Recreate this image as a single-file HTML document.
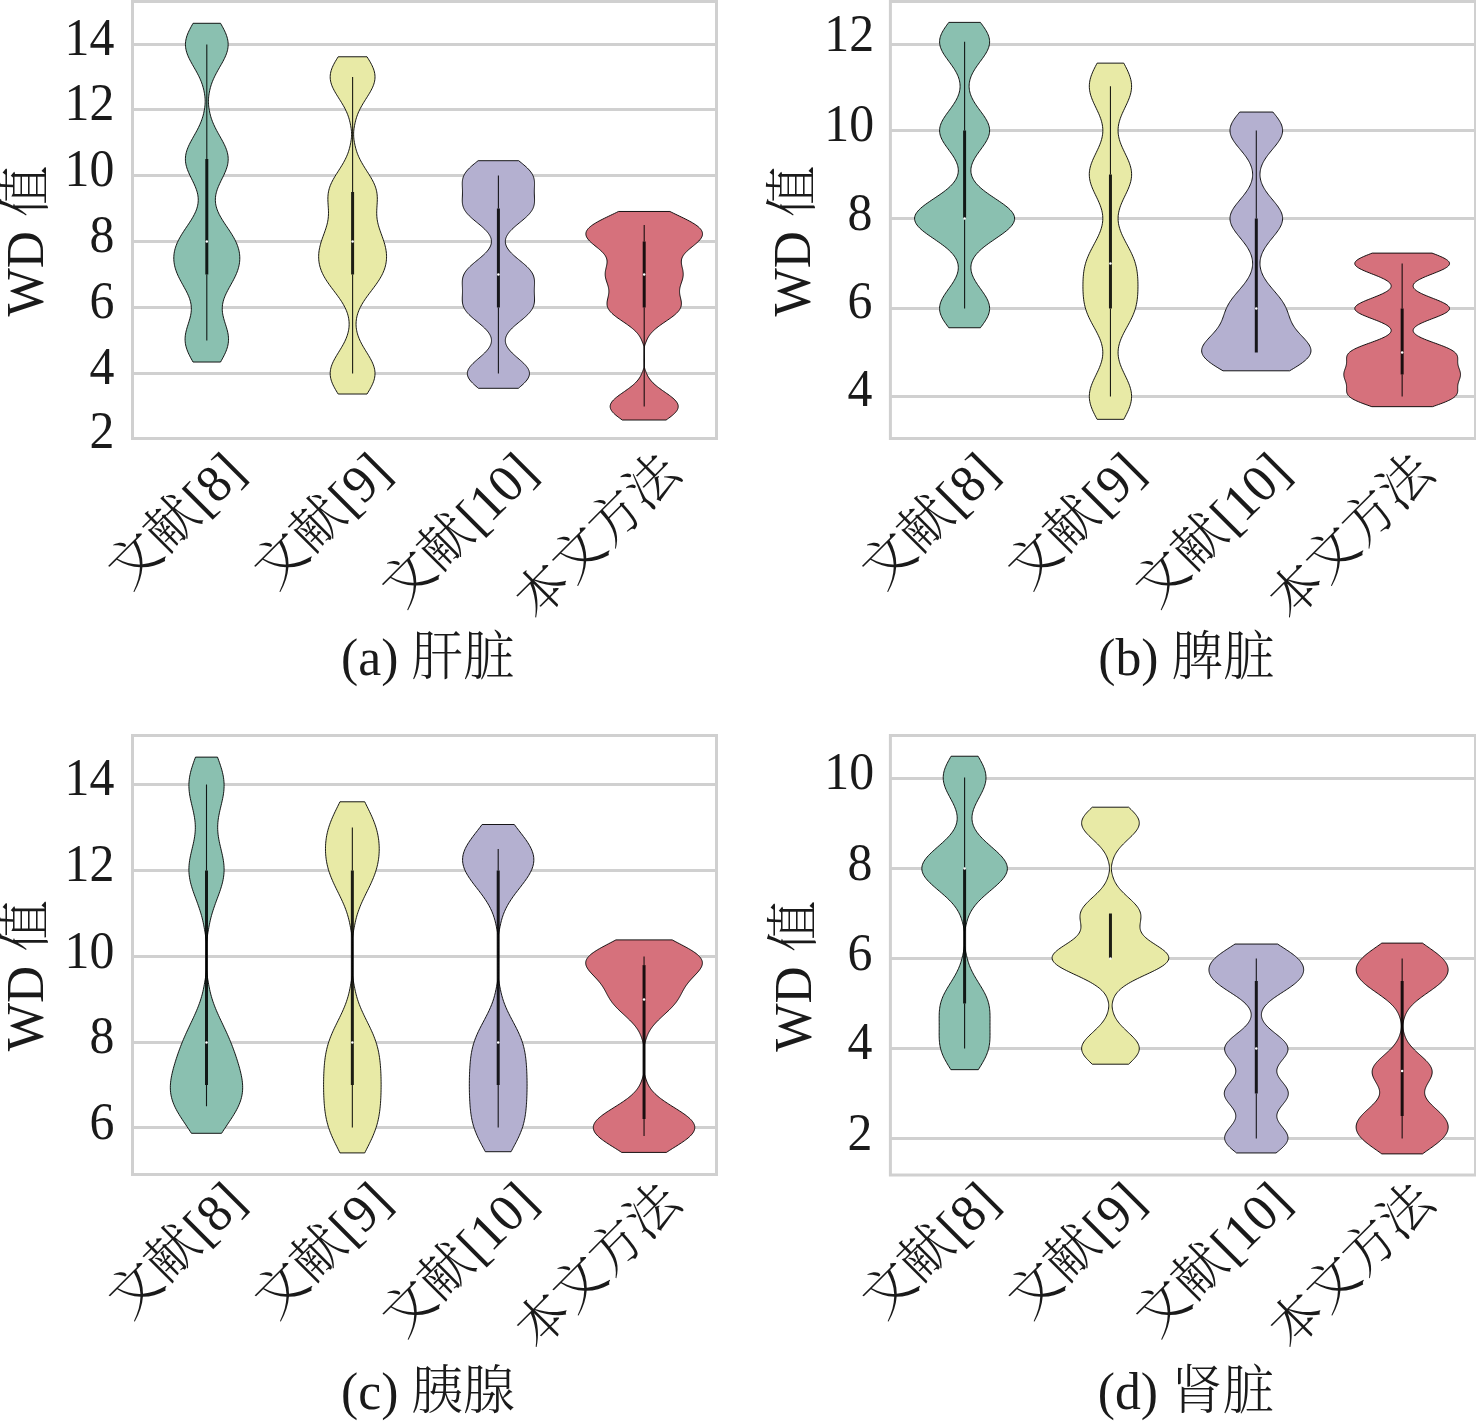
<!DOCTYPE html>
<html lang="zh-CN">
<head>
<meta charset="utf-8">
<title>WD 值 violin plots</title>
<style>
html,body{margin:0;padding:0;background:#fff;}
body{width:1476px;height:1424px;overflow:hidden;}
svg text{font-family:"Liberation Serif", "Noto Serif CJK SC", serif;fill:#1a1a1a;font-weight:300;}
</style>
</head>
<body>
<svg role="img" aria-label="WD 值 小提琴图" width="1476" height="1424" viewBox="0 0 1476 1424" style="display:block">
<rect width="1476" height="1424" fill="#fff"/>
<g id="panel-a">
<line x1="132.5" x2="716.5" y1="44.5" y2="44.5" stroke="#d0d0d0" stroke-width="3.0"/>
<line x1="132.5" x2="716.5" y1="109.5" y2="109.5" stroke="#d0d0d0" stroke-width="3.0"/>
<line x1="132.5" x2="716.5" y1="175.5" y2="175.5" stroke="#d0d0d0" stroke-width="3.0"/>
<line x1="132.5" x2="716.5" y1="241.5" y2="241.5" stroke="#d0d0d0" stroke-width="3.0"/>
<line x1="132.5" x2="716.5" y1="307.5" y2="307.5" stroke="#d0d0d0" stroke-width="3.0"/>
<line x1="132.5" x2="716.5" y1="373.5" y2="373.5" stroke="#d0d0d0" stroke-width="3.0"/>
<path d="M193.05,362.04 L192.18,360.48 L191.32,358.93 L190.48,357.38 L189.68,355.82 L188.92,354.27 L188.2,352.72 L187.55,351.17 L186.96,349.61 L186.44,348.06 L186,346.51 L185.64,344.95 L185.37,343.4 L185.19,341.85 L185.09,340.3 L185.07,338.74 L185.15,337.19 L185.3,335.64 L185.52,334.08 L185.82,332.53 L186.17,330.98 L186.57,329.43 L187.01,327.87 L187.48,326.32 L187.97,324.77 L188.46,323.22 L188.95,321.66 L189.42,320.11 L189.86,318.56 L190.26,317 L190.61,315.45 L190.9,313.9 L191.12,312.35 L191.27,310.79 L191.34,309.24 L191.33,307.69 L191.23,306.13 L191.04,304.58 L190.77,303.03 L190.41,301.48 L189.98,299.92 L189.46,298.37 L188.88,296.82 L188.23,295.26 L187.52,293.71 L186.76,292.16 L185.97,290.61 L185.14,289.05 L184.29,287.5 L183.43,285.95 L182.57,284.39 L181.71,282.84 L180.86,281.29 L180.04,279.74 L179.25,278.18 L178.49,276.63 L177.78,275.08 L177.11,273.52 L176.5,271.97 L175.94,270.42 L175.44,268.87 L175,267.31 L174.63,265.76 L174.33,264.21 L174.09,262.65 L173.92,261.1 L173.82,259.55 L173.79,258 L173.84,256.44 L173.95,254.89 L174.14,253.34 L174.39,251.78 L174.72,250.23 L175.12,248.68 L175.59,247.13 L176.12,245.57 L176.72,244.02 L177.38,242.47 L178.11,240.91 L178.89,239.36 L179.72,237.81 L180.61,236.26 L181.54,234.7 L182.5,233.15 L183.5,231.6 L184.52,230.04 L185.55,228.49 L186.6,226.94 L187.65,225.39 L188.69,223.83 L189.71,222.28 L190.71,220.73 L191.67,219.17 L192.6,217.62 L193.47,216.07 L194.29,214.52 L195.05,212.96 L195.74,211.41 L196.35,209.86 L196.88,208.3 L197.33,206.75 L197.69,205.2 L197.96,203.65 L198.14,202.09 L198.23,200.54 L198.23,198.99 L198.13,197.43 L197.95,195.88 L197.68,194.33 L197.33,192.78 L196.9,191.22 L196.4,189.67 L195.84,188.12 L195.22,186.57 L194.55,185.01 L193.84,183.46 L193.11,181.91 L192.35,180.35 L191.58,178.8 L190.82,177.25 L190.07,175.7 L189.34,174.14 L188.65,172.59 L188,171.04 L187.4,169.48 L186.87,167.93 L186.41,166.38 L186.03,164.83 L185.74,163.27 L185.53,161.72 L185.42,160.17 L185.41,158.61 L185.49,157.06 L185.66,155.51 L185.93,153.96 L186.29,152.4 L186.73,150.85 L187.26,149.3 L187.86,147.74 L188.52,146.19 L189.24,144.64 L190.01,143.09 L190.82,141.53 L191.66,139.98 L192.52,138.43 L193.39,136.87 L194.27,135.32 L195.14,133.77 L196,132.22 L196.84,130.66 L197.66,129.11 L198.44,127.56 L199.19,126 L199.9,124.45 L200.57,122.9 L201.2,121.35 L201.78,119.79 L202.31,118.24 L202.79,116.69 L203.22,115.13 L203.61,113.58 L203.95,112.03 L204.25,110.48 L204.52,108.93 L204.74,107.4 L204.93,105.87 L205.06,104.34 L205.14,102.81 L205.17,101.29 L205.14,99.76 L205.05,98.23 L204.91,96.7 L204.72,95.17 L204.49,93.64 L204.22,92.11 L203.91,90.58 L203.57,89.05 L203.17,87.52 L202.73,85.99 L202.25,84.46 L201.71,82.93 L201.13,81.4 L200.5,79.87 L199.82,78.35 L199.11,76.82 L198.35,75.29 L197.56,73.76 L196.74,72.23 L195.9,70.7 L195.04,69.17 L194.17,67.64 L193.29,66.11 L192.42,64.58 L191.56,63.05 L190.72,61.52 L189.92,59.99 L189.16,58.46 L188.44,56.94 L187.79,55.41 L187.2,53.88 L186.69,52.35 L186.25,50.82 L185.91,49.29 L185.66,47.76 L185.5,46.23 L185.43,44.7 L185.47,43.17 L185.6,41.64 L185.83,40.11 L186.16,38.58 L186.57,37.05 L187.06,35.52 L187.63,34 L188.27,32.47 L188.97,30.94 L189.72,29.41 L190.51,27.88 L191.34,26.35 L192.19,24.82 L193.06,23.29 L220.54,23.29 L221.41,24.82 L222.26,26.35 L223.09,27.88 L223.88,29.41 L224.63,30.94 L225.33,32.47 L225.97,34 L226.54,35.52 L227.03,37.05 L227.44,38.58 L227.77,40.11 L228,41.64 L228.13,43.17 L228.17,44.7 L228.1,46.23 L227.94,47.76 L227.69,49.29 L227.35,50.82 L226.91,52.35 L226.4,53.88 L225.81,55.41 L225.16,56.94 L224.44,58.46 L223.68,59.99 L222.88,61.52 L222.04,63.05 L221.18,64.58 L220.31,66.11 L219.43,67.64 L218.56,69.17 L217.7,70.7 L216.86,72.23 L216.04,73.76 L215.25,75.29 L214.49,76.82 L213.78,78.35 L213.1,79.87 L212.47,81.4 L211.89,82.93 L211.35,84.46 L210.87,85.99 L210.43,87.52 L210.03,89.05 L209.69,90.58 L209.38,92.11 L209.11,93.64 L208.88,95.17 L208.69,96.7 L208.55,98.23 L208.46,99.76 L208.43,101.29 L208.46,102.81 L208.54,104.34 L208.67,105.87 L208.86,107.4 L209.08,108.93 L209.35,110.48 L209.65,112.03 L209.99,113.58 L210.38,115.13 L210.81,116.69 L211.29,118.24 L211.82,119.79 L212.4,121.35 L213.03,122.9 L213.7,124.45 L214.41,126 L215.16,127.56 L215.94,129.11 L216.76,130.66 L217.6,132.22 L218.46,133.77 L219.33,135.32 L220.21,136.87 L221.08,138.43 L221.94,139.98 L222.78,141.53 L223.59,143.09 L224.36,144.64 L225.08,146.19 L225.74,147.74 L226.34,149.3 L226.87,150.85 L227.31,152.4 L227.67,153.96 L227.94,155.51 L228.11,157.06 L228.19,158.61 L228.18,160.17 L228.07,161.72 L227.86,163.27 L227.57,164.83 L227.19,166.38 L226.73,167.93 L226.2,169.48 L225.6,171.04 L224.95,172.59 L224.26,174.14 L223.53,175.7 L222.78,177.25 L222.02,178.8 L221.25,180.35 L220.49,181.91 L219.76,183.46 L219.05,185.01 L218.38,186.57 L217.76,188.12 L217.2,189.67 L216.7,191.22 L216.27,192.78 L215.92,194.33 L215.65,195.88 L215.47,197.43 L215.37,198.99 L215.37,200.54 L215.46,202.09 L215.64,203.65 L215.91,205.2 L216.27,206.75 L216.72,208.3 L217.25,209.86 L217.86,211.41 L218.55,212.96 L219.31,214.52 L220.13,216.07 L221,217.62 L221.93,219.17 L222.89,220.73 L223.89,222.28 L224.91,223.83 L225.95,225.39 L227,226.94 L228.05,228.49 L229.08,230.04 L230.1,231.6 L231.1,233.15 L232.06,234.7 L232.99,236.26 L233.88,237.81 L234.71,239.36 L235.49,240.91 L236.22,242.47 L236.88,244.02 L237.48,245.57 L238.01,247.13 L238.48,248.68 L238.88,250.23 L239.21,251.78 L239.46,253.34 L239.65,254.89 L239.76,256.44 L239.81,258 L239.78,259.55 L239.68,261.1 L239.51,262.65 L239.27,264.21 L238.97,265.76 L238.6,267.31 L238.16,268.87 L237.66,270.42 L237.1,271.97 L236.49,273.52 L235.82,275.08 L235.11,276.63 L234.35,278.18 L233.56,279.74 L232.74,281.29 L231.89,282.84 L231.03,284.39 L230.17,285.95 L229.31,287.5 L228.46,289.05 L227.63,290.61 L226.84,292.16 L226.08,293.71 L225.37,295.26 L224.72,296.82 L224.14,298.37 L223.62,299.92 L223.19,301.48 L222.83,303.03 L222.56,304.58 L222.37,306.13 L222.27,307.69 L222.26,309.24 L222.33,310.79 L222.48,312.35 L222.7,313.9 L222.99,315.45 L223.34,317 L223.74,318.56 L224.18,320.11 L224.65,321.66 L225.14,323.22 L225.63,324.77 L226.12,326.32 L226.59,327.87 L227.03,329.43 L227.43,330.98 L227.78,332.53 L228.08,334.08 L228.3,335.64 L228.45,337.19 L228.53,338.74 L228.51,340.3 L228.41,341.85 L228.23,343.4 L227.96,344.95 L227.6,346.51 L227.16,348.06 L226.64,349.61 L226.05,351.17 L225.4,352.72 L224.68,354.27 L223.92,355.82 L223.12,357.38 L222.28,358.93 L221.42,360.48 L220.55,362.04Z" fill="#8ac0b0" stroke="#000" stroke-opacity="0.9" stroke-width="1" stroke-linejoin="round"/>
<line x1="206.8" x2="206.8" y1="44.5" y2="159" stroke="#000" stroke-opacity="0.88" stroke-width="1.1"/>
<line x1="206.8" x2="206.8" y1="274.5" y2="340.5" stroke="#000" stroke-opacity="0.88" stroke-width="1.1"/>
<line x1="206.8" x2="206.8" y1="159" y2="274.5" stroke="#000" stroke-opacity="0.88" stroke-width="3"/>
<circle cx="206.8" cy="241.5" r="1.25" fill="#fff"/>
<path d="M338.19,394.03 L337.24,392.49 L336.31,390.94 L335.4,389.4 L334.54,387.85 L333.73,386.31 L332.98,384.77 L332.3,383.22 L331.7,381.68 L331.2,380.14 L330.79,378.59 L330.48,377.05 L330.28,375.51 L330.19,373.96 L330.21,372.42 L330.35,370.87 L330.59,369.33 L330.94,367.79 L331.39,366.24 L331.93,364.7 L332.56,363.16 L333.26,361.61 L334.04,360.07 L334.87,358.53 L335.74,356.98 L336.65,355.44 L337.59,353.89 L338.54,352.35 L339.49,350.81 L340.43,349.26 L341.35,347.72 L342.25,346.18 L343.11,344.63 L343.94,343.09 L344.71,341.55 L345.44,340 L346.1,338.46 L346.71,336.91 L347.25,335.37 L347.73,333.83 L348.14,332.28 L348.48,330.74 L348.76,329.2 L348.96,327.65 L349.09,326.11 L349.14,324.57 L349.13,323.02 L349.04,321.48 L348.88,319.93 L348.65,318.39 L348.35,316.85 L347.97,315.3 L347.52,313.76 L347,312.22 L346.41,310.67 L345.75,309.13 L345.02,307.59 L344.23,306.04 L343.37,304.5 L342.46,302.95 L341.49,301.41 L340.48,299.87 L339.42,298.32 L338.32,296.78 L337.2,295.24 L336.05,293.69 L334.88,292.15 L333.71,290.61 L332.55,289.06 L331.39,287.52 L330.25,285.97 L329.13,284.43 L328.05,282.89 L327.01,281.34 L326.01,279.8 L325.07,278.26 L324.18,276.71 L323.35,275.17 L322.58,273.62 L321.89,272.08 L321.26,270.54 L320.69,268.99 L320.2,267.45 L319.78,265.91 L319.42,264.36 L319.14,262.82 L318.92,261.28 L318.76,259.73 L318.68,258.19 L318.65,256.64 L318.68,255.1 L318.78,253.56 L318.93,252.01 L319.14,250.47 L319.4,248.93 L319.72,247.38 L320.08,245.84 L320.48,244.3 L320.92,242.75 L321.4,241.21 L321.91,239.66 L322.44,238.12 L322.99,236.58 L323.55,235.03 L324.11,233.49 L324.66,231.95 L325.2,230.4 L325.72,228.86 L326.21,227.32 L326.66,225.77 L327.08,224.23 L327.44,222.68 L327.75,221.14 L328.01,219.6 L328.21,218.05 L328.35,216.51 L328.44,214.97 L328.49,213.42 L328.49,211.88 L328.45,210.34 L328.38,208.79 L328.29,207.25 L328.18,205.7 L328.08,204.16 L327.99,202.62 L327.92,201.07 L327.88,199.53 L327.88,197.99 L327.94,196.44 L328.05,194.9 L328.23,193.36 L328.48,191.81 L328.81,190.27 L329.22,188.72 L329.7,187.18 L330.26,185.64 L330.9,184.09 L331.6,182.55 L332.37,181.01 L333.19,179.46 L334.07,177.92 L334.98,176.38 L335.93,174.83 L336.9,173.29 L337.88,171.74 L338.87,170.2 L339.85,168.66 L340.82,167.11 L341.76,165.57 L342.68,164.03 L343.57,162.48 L344.41,160.94 L345.21,159.39 L345.96,157.85 L346.66,156.31 L347.32,154.76 L347.91,153.22 L348.46,151.68 L348.95,150.13 L349.39,148.59 L349.79,147.05 L350.15,145.5 L350.47,143.96 L350.77,142.41 L351.03,140.87 L351.25,139.33 L351.41,137.78 L351.52,136.24 L351.57,134.7 L351.56,133.15 L351.49,131.61 L351.35,130.07 L351.16,128.52 L350.92,126.98 L350.65,125.43 L350.34,123.89 L350,122.35 L349.63,120.8 L349.22,119.26 L348.75,117.72 L348.24,116.17 L347.68,114.63 L347.06,113.09 L346.39,111.54 L345.67,110 L344.9,108.47 L344.09,106.95 L343.23,105.43 L342.35,103.91 L341.43,102.39 L340.49,100.87 L339.53,99.35 L338.57,97.83 L337.62,96.31 L336.68,94.79 L335.76,93.27 L334.88,91.75 L334.05,90.23 L333.27,88.71 L332.56,87.19 L331.93,85.67 L331.39,84.15 L330.94,82.63 L330.59,81.11 L330.35,79.59 L330.21,78.07 L330.19,76.54 L330.28,75.02 L330.48,73.5 L330.79,71.98 L331.2,70.46 L331.7,68.94 L332.3,67.42 L332.98,65.9 L333.73,64.38 L334.54,62.86 L335.4,61.34 L336.31,59.82 L337.24,58.3 L338.19,56.78 L367.01,56.78 L367.96,58.3 L368.89,59.82 L369.8,61.34 L370.66,62.86 L371.47,64.38 L372.22,65.9 L372.9,67.42 L373.5,68.94 L374,70.46 L374.41,71.98 L374.72,73.5 L374.92,75.02 L375.01,76.54 L374.99,78.07 L374.85,79.59 L374.61,81.11 L374.26,82.63 L373.81,84.15 L373.27,85.67 L372.64,87.19 L371.93,88.71 L371.15,90.23 L370.32,91.75 L369.44,93.27 L368.52,94.79 L367.58,96.31 L366.63,97.83 L365.67,99.35 L364.71,100.87 L363.77,102.39 L362.85,103.91 L361.97,105.43 L361.11,106.95 L360.3,108.47 L359.53,110 L358.81,111.54 L358.14,113.09 L357.52,114.63 L356.96,116.17 L356.45,117.72 L355.98,119.26 L355.57,120.8 L355.2,122.35 L354.86,123.89 L354.55,125.43 L354.28,126.98 L354.04,128.52 L353.85,130.07 L353.71,131.61 L353.64,133.15 L353.63,134.7 L353.68,136.24 L353.79,137.78 L353.95,139.33 L354.17,140.87 L354.43,142.41 L354.73,143.96 L355.05,145.5 L355.41,147.05 L355.81,148.59 L356.25,150.13 L356.74,151.68 L357.29,153.22 L357.88,154.76 L358.54,156.31 L359.24,157.85 L359.99,159.39 L360.79,160.94 L361.63,162.48 L362.52,164.03 L363.44,165.57 L364.38,167.11 L365.35,168.66 L366.33,170.2 L367.32,171.74 L368.3,173.29 L369.27,174.83 L370.22,176.38 L371.13,177.92 L372.01,179.46 L372.83,181.01 L373.6,182.55 L374.3,184.09 L374.94,185.64 L375.5,187.18 L375.98,188.72 L376.39,190.27 L376.72,191.81 L376.97,193.36 L377.15,194.9 L377.26,196.44 L377.32,197.99 L377.32,199.53 L377.28,201.07 L377.21,202.62 L377.12,204.16 L377.02,205.7 L376.91,207.25 L376.82,208.79 L376.75,210.34 L376.71,211.88 L376.71,213.42 L376.76,214.97 L376.85,216.51 L376.99,218.05 L377.19,219.6 L377.45,221.14 L377.76,222.68 L378.12,224.23 L378.54,225.77 L378.99,227.32 L379.48,228.86 L380,230.4 L380.54,231.95 L381.09,233.49 L381.65,235.03 L382.21,236.58 L382.76,238.12 L383.29,239.66 L383.8,241.21 L384.28,242.75 L384.72,244.3 L385.12,245.84 L385.48,247.38 L385.8,248.93 L386.06,250.47 L386.27,252.01 L386.42,253.56 L386.52,255.1 L386.55,256.64 L386.52,258.19 L386.44,259.73 L386.28,261.28 L386.06,262.82 L385.78,264.36 L385.42,265.91 L385,267.45 L384.51,268.99 L383.94,270.54 L383.31,272.08 L382.62,273.62 L381.85,275.17 L381.02,276.71 L380.13,278.26 L379.19,279.8 L378.19,281.34 L377.15,282.89 L376.07,284.43 L374.95,285.97 L373.81,287.52 L372.65,289.06 L371.49,290.61 L370.32,292.15 L369.15,293.69 L368,295.24 L366.88,296.78 L365.78,298.32 L364.72,299.87 L363.71,301.41 L362.74,302.95 L361.83,304.5 L360.97,306.04 L360.18,307.59 L359.45,309.13 L358.79,310.67 L358.2,312.22 L357.68,313.76 L357.23,315.3 L356.85,316.85 L356.55,318.39 L356.32,319.93 L356.16,321.48 L356.07,323.02 L356.06,324.57 L356.11,326.11 L356.24,327.65 L356.44,329.2 L356.72,330.74 L357.06,332.28 L357.47,333.83 L357.95,335.37 L358.49,336.91 L359.1,338.46 L359.76,340 L360.49,341.55 L361.26,343.09 L362.09,344.63 L362.95,346.18 L363.85,347.72 L364.77,349.26 L365.71,350.81 L366.66,352.35 L367.61,353.89 L368.55,355.44 L369.46,356.98 L370.33,358.53 L371.16,360.07 L371.94,361.61 L372.64,363.16 L373.27,364.7 L373.81,366.24 L374.26,367.79 L374.61,369.33 L374.85,370.87 L374.99,372.42 L375.01,373.96 L374.92,375.51 L374.72,377.05 L374.41,378.59 L374,380.14 L373.5,381.68 L372.9,383.22 L372.22,384.77 L371.47,386.31 L370.66,387.85 L369.8,389.4 L368.89,390.94 L367.96,392.49 L367.01,394.03Z" fill="#e8eaa6" stroke="#000" stroke-opacity="0.9" stroke-width="1" stroke-linejoin="round"/>
<line x1="352.6" x2="352.6" y1="77" y2="192" stroke="#000" stroke-opacity="0.88" stroke-width="1.1"/>
<line x1="352.6" x2="352.6" y1="274.5" y2="373.5" stroke="#000" stroke-opacity="0.88" stroke-width="1.1"/>
<line x1="352.6" x2="352.6" y1="192" y2="274.5" stroke="#000" stroke-opacity="0.88" stroke-width="3"/>
<circle cx="352.6" cy="241.5" r="1.25" fill="#fff"/>
<path d="M478.43,388.31 L477.2,387.27 L475.99,386.23 L474.81,385.19 L473.68,384.15 L472.61,383.11 L471.61,382.08 L470.69,381.04 L469.86,380 L469.14,378.96 L468.53,377.92 L468.04,376.88 L467.67,375.84 L467.44,374.8 L467.33,373.76 L467.37,372.72 L467.53,371.68 L467.83,370.64 L468.26,369.6 L468.8,368.56 L469.47,367.52 L470.24,366.48 L471.1,365.45 L472.05,364.41 L473.08,363.37 L474.17,362.33 L475.3,361.29 L476.47,360.25 L477.67,359.21 L478.87,358.17 L480.07,357.13 L481.26,356.09 L482.42,355.05 L483.54,354.01 L484.62,352.97 L485.64,351.93 L486.6,350.89 L487.48,349.85 L488.29,348.82 L489.02,347.78 L489.66,346.74 L490.2,345.7 L490.65,344.66 L491.01,343.62 L491.26,342.58 L491.41,341.54 L491.46,340.5 L491.41,339.46 L491.25,338.42 L491,337.38 L490.64,336.34 L490.19,335.3 L489.64,334.26 L488.99,333.22 L488.26,332.19 L487.44,331.15 L486.54,330.11 L485.56,329.07 L484.52,328.03 L483.42,326.99 L482.27,325.95 L481.07,324.91 L479.84,323.87 L478.59,322.83 L477.32,321.79 L476.06,320.75 L474.8,319.71 L473.56,318.67 L472.35,317.63 L471.18,316.59 L470.06,315.56 L469,314.52 L468.01,313.48 L467.09,312.44 L466.25,311.4 L465.5,310.36 L464.83,309.32 L464.24,308.28 L463.75,307.24 L463.33,306.2 L462.99,305.16 L462.73,304.12 L462.53,303.08 L462.4,302.04 L462.31,301 L462.27,299.96 L462.27,298.93 L462.28,297.89 L462.32,296.85 L462.36,295.81 L462.4,294.77 L462.44,293.73 L462.47,292.69 L462.49,291.65 L462.49,290.61 L462.48,289.57 L462.45,288.53 L462.41,287.49 L462.37,286.45 L462.33,285.41 L462.29,284.37 L462.27,283.33 L462.27,282.3 L462.3,281.26 L462.37,280.22 L462.5,279.18 L462.68,278.14 L462.92,277.1 L463.24,276.06 L463.63,275.02 L464.11,273.98 L464.67,272.94 L465.32,271.9 L466.06,270.86 L466.88,269.82 L467.77,268.78 L468.75,267.74 L469.79,266.7 L470.89,265.67 L472.05,264.63 L473.25,263.59 L474.48,262.55 L475.74,261.51 L477.01,260.47 L478.27,259.43 L479.53,258.39 L480.77,257.35 L481.97,256.31 L483.14,255.27 L484.25,254.23 L485.31,253.19 L486.3,252.15 L487.22,251.11 L488.06,250.07 L488.81,249.04 L489.48,248 L490.06,246.96 L490.54,245.92 L490.92,244.88 L491.2,243.84 L491.38,242.8 L491.45,241.76 L491.43,240.72 L491.3,239.68 L491.07,238.64 L490.74,237.6 L490.31,236.56 L489.78,235.52 L489.16,234.48 L488.45,233.44 L487.65,232.41 L486.77,231.37 L485.81,230.33 L484.79,229.29 L483.7,228.25 L482.56,227.21 L481.37,226.17 L480.15,225.13 L478.9,224.09 L477.64,223.05 L476.37,222.01 L475.11,220.97 L473.86,219.93 L472.65,218.89 L471.47,217.85 L470.33,216.81 L469.26,215.78 L468.25,214.74 L467.31,213.7 L466.46,212.66 L465.68,211.62 L464.99,210.58 L464.38,209.54 L463.86,208.5 L463.43,207.46 L463.07,206.42 L462.79,205.38 L462.58,204.34 L462.43,203.3 L462.33,202.26 L462.28,201.22 L462.26,200.18 L462.28,199.15 L462.31,198.11 L462.35,197.07 L462.39,196.03 L462.43,194.99 L462.46,193.95 L462.48,192.91 L462.49,191.87 L462.48,190.83 L462.46,189.79 L462.42,188.75 L462.38,187.71 L462.34,186.67 L462.3,185.63 L462.27,184.59 L462.27,183.55 L462.29,182.52 L462.35,181.48 L462.46,180.44 L462.63,179.4 L462.86,178.36 L463.16,177.32 L463.53,176.28 L463.99,175.24 L464.53,174.2 L465.16,173.16 L465.88,172.12 L466.68,171.08 L467.56,170.04 L468.52,169 L469.56,167.96 L470.65,166.92 L471.81,165.89 L473.01,164.85 L474.26,163.81 L475.53,162.77 L476.82,161.73 L478.12,160.69 L518.68,160.69 L519.98,161.73 L521.27,162.77 L522.54,163.81 L523.79,164.85 L524.99,165.89 L526.15,166.92 L527.24,167.96 L528.28,169 L529.24,170.04 L530.12,171.08 L530.92,172.12 L531.64,173.16 L532.27,174.2 L532.81,175.24 L533.27,176.28 L533.64,177.32 L533.94,178.36 L534.17,179.4 L534.34,180.44 L534.45,181.48 L534.51,182.52 L534.53,183.55 L534.53,184.59 L534.5,185.63 L534.46,186.67 L534.42,187.71 L534.38,188.75 L534.34,189.79 L534.32,190.83 L534.31,191.87 L534.32,192.91 L534.34,193.95 L534.37,194.99 L534.41,196.03 L534.45,197.07 L534.49,198.11 L534.52,199.15 L534.54,200.18 L534.52,201.22 L534.47,202.26 L534.37,203.3 L534.22,204.34 L534.01,205.38 L533.73,206.42 L533.37,207.46 L532.94,208.5 L532.42,209.54 L531.81,210.58 L531.12,211.62 L530.34,212.66 L529.49,213.7 L528.55,214.74 L527.54,215.78 L526.47,216.81 L525.33,217.85 L524.15,218.89 L522.94,219.93 L521.69,220.97 L520.43,222.01 L519.16,223.05 L517.9,224.09 L516.65,225.13 L515.43,226.17 L514.24,227.21 L513.1,228.25 L512.01,229.29 L510.99,230.33 L510.03,231.37 L509.15,232.41 L508.35,233.44 L507.64,234.48 L507.02,235.52 L506.49,236.56 L506.06,237.6 L505.73,238.64 L505.5,239.68 L505.37,240.72 L505.35,241.76 L505.42,242.8 L505.6,243.84 L505.88,244.88 L506.26,245.92 L506.74,246.96 L507.32,248 L507.99,249.04 L508.74,250.07 L509.58,251.11 L510.5,252.15 L511.49,253.19 L512.55,254.23 L513.66,255.27 L514.83,256.31 L516.03,257.35 L517.27,258.39 L518.53,259.43 L519.79,260.47 L521.06,261.51 L522.32,262.55 L523.55,263.59 L524.75,264.63 L525.91,265.67 L527.01,266.7 L528.05,267.74 L529.03,268.78 L529.92,269.82 L530.74,270.86 L531.48,271.9 L532.13,272.94 L532.69,273.98 L533.17,275.02 L533.56,276.06 L533.88,277.1 L534.12,278.14 L534.3,279.18 L534.43,280.22 L534.5,281.26 L534.53,282.3 L534.53,283.33 L534.51,284.37 L534.47,285.41 L534.43,286.45 L534.39,287.49 L534.35,288.53 L534.32,289.57 L534.31,290.61 L534.31,291.65 L534.33,292.69 L534.36,293.73 L534.4,294.77 L534.44,295.81 L534.48,296.85 L534.52,297.89 L534.53,298.93 L534.53,299.96 L534.49,301 L534.4,302.04 L534.27,303.08 L534.07,304.12 L533.81,305.16 L533.47,306.2 L533.05,307.24 L532.56,308.28 L531.97,309.32 L531.3,310.36 L530.55,311.4 L529.71,312.44 L528.79,313.48 L527.8,314.52 L526.74,315.56 L525.62,316.59 L524.45,317.63 L523.24,318.67 L522,319.71 L520.74,320.75 L519.48,321.79 L518.21,322.83 L516.96,323.87 L515.73,324.91 L514.53,325.95 L513.38,326.99 L512.28,328.03 L511.24,329.07 L510.26,330.11 L509.36,331.15 L508.54,332.19 L507.81,333.22 L507.16,334.26 L506.61,335.3 L506.16,336.34 L505.8,337.38 L505.55,338.42 L505.39,339.46 L505.34,340.5 L505.39,341.54 L505.54,342.58 L505.79,343.62 L506.15,344.66 L506.6,345.7 L507.14,346.74 L507.78,347.78 L508.51,348.82 L509.32,349.85 L510.2,350.89 L511.16,351.93 L512.18,352.97 L513.26,354.01 L514.38,355.05 L515.54,356.09 L516.73,357.13 L517.93,358.17 L519.13,359.21 L520.33,360.25 L521.5,361.29 L522.63,362.33 L523.72,363.37 L524.75,364.41 L525.7,365.45 L526.56,366.48 L527.33,367.52 L528,368.56 L528.54,369.6 L528.97,370.64 L529.27,371.68 L529.43,372.72 L529.47,373.76 L529.36,374.8 L529.13,375.84 L528.76,376.88 L528.27,377.92 L527.66,378.96 L526.94,380 L526.11,381.04 L525.19,382.08 L524.19,383.11 L523.12,384.15 L521.99,385.19 L520.81,386.23 L519.6,387.27 L518.37,388.31Z" fill="#b4b0d0" stroke="#000" stroke-opacity="0.9" stroke-width="1" stroke-linejoin="round"/>
<line x1="498.4" x2="498.4" y1="175.5" y2="208.5" stroke="#000" stroke-opacity="0.88" stroke-width="1.1"/>
<line x1="498.4" x2="498.4" y1="307.5" y2="373.5" stroke="#000" stroke-opacity="0.88" stroke-width="1.1"/>
<line x1="498.4" x2="498.4" y1="208.5" y2="307.5" stroke="#000" stroke-opacity="0.88" stroke-width="3"/>
<circle cx="498.4" cy="274.5" r="1.25" fill="#fff"/>
<path d="M622.32,420.02 L620.97,419.07 L619.64,418.12 L618.35,417.16 L617.11,416.21 L615.93,415.26 L614.83,414.31 L613.82,413.36 L612.92,412.4 L612.13,411.45 L611.46,410.5 L610.92,409.55 L610.53,408.59 L610.28,407.64 L610.17,406.69 L610.22,405.74 L610.41,404.79 L610.75,403.83 L611.23,402.88 L611.84,401.93 L612.59,400.98 L613.45,400.02 L614.42,399.07 L615.48,398.12 L616.63,397.17 L617.85,396.22 L619.12,395.26 L620.43,394.31 L621.78,393.36 L623.14,392.41 L624.51,391.45 L625.87,390.5 L627.2,389.55 L628.51,388.6 L629.79,387.64 L631.01,386.69 L632.19,385.74 L633.31,384.79 L634.36,383.84 L635.36,382.88 L636.29,381.93 L637.15,380.98 L637.94,380.03 L638.67,379.07 L639.34,378.12 L639.94,377.17 L640.49,376.22 L640.98,375.27 L641.43,374.31 L641.84,373.36 L642.23,372.41 L642.61,371.46 L642.98,370.5 L643.33,369.55 L643.65,368.6 L643.93,367.65 L644.17,366.7 L644.2,365.74 L644.2,364.79 L644.2,363.84 L644.2,362.89 L644.2,361.93 L644.2,360.98 L644.2,360.03 L644.2,359.08 L644.2,358.13 L644.2,357.17 L644.2,356.22 L644.2,355.27 L644.2,354.32 L644.2,353.36 L644.2,352.41 L644.2,351.46 L644.2,350.51 L644.2,349.55 L644.2,348.6 L644.2,347.65 L644.02,346.7 L643.76,345.75 L643.45,344.79 L643.11,343.84 L642.75,342.89 L642.37,341.94 L641.98,340.98 L641.58,340.03 L641.15,339.08 L640.67,338.13 L640.15,337.18 L639.56,336.22 L638.92,335.27 L638.21,334.32 L637.44,333.37 L636.6,332.41 L635.69,331.46 L634.72,330.51 L633.68,329.56 L632.57,328.61 L631.41,327.65 L630.19,326.7 L628.92,325.75 L627.61,324.8 L626.26,323.84 L624.88,322.89 L623.49,321.94 L622.09,320.99 L620.69,320.04 L619.31,319.08 L617.96,318.13 L616.65,317.18 L615.38,316.23 L614.18,315.27 L613.05,314.32 L612,313.37 L611.05,312.42 L610.18,311.46 L609.42,310.51 L608.77,309.56 L608.22,308.61 L607.78,307.66 L607.44,306.7 L607.2,305.75 L607.06,304.8 L607,303.85 L607.02,302.89 L607.1,301.94 L607.23,300.99 L607.41,300.04 L607.61,299.09 L607.83,298.13 L608.05,297.18 L608.27,296.23 L608.46,295.28 L608.62,294.32 L608.75,293.37 L608.83,292.42 L608.86,291.47 L608.84,290.52 L608.76,289.56 L608.64,288.61 L608.46,287.66 L608.24,286.71 L607.98,285.75 L607.7,284.8 L607.39,283.85 L607.07,282.9 L606.75,281.95 L606.43,280.99 L606.14,280.04 L605.87,279.09 L605.64,278.14 L605.45,277.18 L605.31,276.23 L605.21,275.28 L605.18,274.33 L605.19,273.37 L605.26,272.42 L605.37,271.47 L605.52,270.52 L605.71,269.57 L605.92,268.61 L606.14,267.66 L606.37,266.71 L606.58,265.76 L606.77,264.8 L606.92,263.85 L607.03,262.9 L607.07,261.95 L607.05,261 L606.94,260.04 L606.75,259.09 L606.46,258.14 L606.07,257.19 L605.58,256.23 L605,255.28 L604.31,254.33 L603.53,253.38 L602.66,252.43 L601.72,251.47 L600.7,250.52 L599.62,249.57 L598.5,248.62 L597.34,247.66 L596.17,246.71 L594.99,245.76 L593.83,244.81 L592.69,243.86 L591.59,242.9 L590.56,241.95 L589.6,241 L588.72,240.05 L587.94,239.09 L587.27,238.14 L586.72,237.19 L586.3,236.24 L586.02,235.28 L585.88,234.33 L585.89,233.38 L586.05,232.43 L586.37,231.48 L586.83,230.52 L587.46,229.57 L588.23,228.62 L589.15,227.67 L590.21,226.71 L591.4,225.76 L592.72,224.81 L594.17,223.86 L595.72,222.91 L597.36,221.95 L599.1,221 L600.91,220.05 L602.78,219.1 L604.7,218.14 L606.66,217.19 L608.64,216.24 L610.63,215.29 L612.62,214.34 L614.6,213.38 L616.55,212.43 L618.46,211.48 L669.94,211.48 L671.85,212.43 L673.8,213.38 L675.78,214.34 L677.77,215.29 L679.76,216.24 L681.74,217.19 L683.7,218.14 L685.62,219.1 L687.49,220.05 L689.3,221 L691.04,221.95 L692.68,222.91 L694.23,223.86 L695.68,224.81 L697,225.76 L698.19,226.71 L699.25,227.67 L700.17,228.62 L700.94,229.57 L701.57,230.52 L702.03,231.48 L702.35,232.43 L702.51,233.38 L702.52,234.33 L702.38,235.28 L702.1,236.24 L701.68,237.19 L701.13,238.14 L700.46,239.09 L699.68,240.05 L698.8,241 L697.84,241.95 L696.81,242.9 L695.71,243.86 L694.57,244.81 L693.41,245.76 L692.23,246.71 L691.06,247.66 L689.9,248.62 L688.78,249.57 L687.7,250.52 L686.68,251.47 L685.74,252.43 L684.87,253.38 L684.09,254.33 L683.4,255.28 L682.82,256.23 L682.33,257.19 L681.94,258.14 L681.65,259.09 L681.46,260.04 L681.35,261 L681.33,261.95 L681.37,262.9 L681.48,263.85 L681.63,264.8 L681.82,265.76 L682.03,266.71 L682.26,267.66 L682.48,268.61 L682.69,269.57 L682.88,270.52 L683.03,271.47 L683.14,272.42 L683.21,273.37 L683.22,274.33 L683.19,275.28 L683.09,276.23 L682.95,277.18 L682.76,278.14 L682.53,279.09 L682.26,280.04 L681.97,280.99 L681.65,281.95 L681.33,282.9 L681.01,283.85 L680.7,284.8 L680.42,285.75 L680.16,286.71 L679.94,287.66 L679.76,288.61 L679.64,289.56 L679.56,290.52 L679.54,291.47 L679.57,292.42 L679.65,293.37 L679.78,294.32 L679.94,295.28 L680.13,296.23 L680.35,297.18 L680.57,298.13 L680.79,299.09 L680.99,300.04 L681.17,300.99 L681.3,301.94 L681.38,302.89 L681.4,303.85 L681.34,304.8 L681.2,305.75 L680.96,306.7 L680.62,307.66 L680.18,308.61 L679.63,309.56 L678.98,310.51 L678.22,311.46 L677.35,312.42 L676.4,313.37 L675.35,314.32 L674.22,315.27 L673.02,316.23 L671.75,317.18 L670.44,318.13 L669.09,319.08 L667.71,320.04 L666.31,320.99 L664.91,321.94 L663.52,322.89 L662.14,323.84 L660.79,324.8 L659.48,325.75 L658.21,326.7 L656.99,327.65 L655.83,328.61 L654.72,329.56 L653.68,330.51 L652.71,331.46 L651.8,332.41 L650.96,333.37 L650.19,334.32 L649.48,335.27 L648.84,336.22 L648.25,337.18 L647.73,338.13 L647.25,339.08 L646.82,340.03 L646.42,340.98 L646.03,341.94 L645.65,342.89 L645.29,343.84 L644.95,344.79 L644.64,345.75 L644.38,346.7 L644.2,347.65 L644.2,348.6 L644.2,349.55 L644.2,350.51 L644.2,351.46 L644.2,352.41 L644.2,353.36 L644.2,354.32 L644.2,355.27 L644.2,356.22 L644.2,357.17 L644.2,358.13 L644.2,359.08 L644.2,360.03 L644.2,360.98 L644.2,361.93 L644.2,362.89 L644.2,363.84 L644.2,364.79 L644.2,365.74 L644.23,366.7 L644.47,367.65 L644.75,368.6 L645.07,369.55 L645.42,370.5 L645.79,371.46 L646.17,372.41 L646.56,373.36 L646.97,374.31 L647.42,375.27 L647.91,376.22 L648.46,377.17 L649.06,378.12 L649.73,379.07 L650.46,380.03 L651.25,380.98 L652.11,381.93 L653.04,382.88 L654.04,383.84 L655.09,384.79 L656.21,385.74 L657.39,386.69 L658.61,387.64 L659.89,388.6 L661.2,389.55 L662.53,390.5 L663.89,391.45 L665.26,392.41 L666.62,393.36 L667.97,394.31 L669.28,395.26 L670.55,396.22 L671.77,397.17 L672.92,398.12 L673.98,399.07 L674.95,400.02 L675.81,400.98 L676.56,401.93 L677.17,402.88 L677.65,403.83 L677.99,404.79 L678.18,405.74 L678.23,406.69 L678.12,407.64 L677.87,408.59 L677.48,409.55 L676.94,410.5 L676.27,411.45 L675.48,412.4 L674.58,413.36 L673.57,414.31 L672.47,415.26 L671.29,416.21 L670.05,417.16 L668.76,418.12 L667.43,419.07 L666.08,420.02Z" fill="#d6717c" stroke="#000" stroke-opacity="0.9" stroke-width="1" stroke-linejoin="round"/>
<line x1="644.2" x2="644.2" y1="225" y2="241.5" stroke="#000" stroke-opacity="0.88" stroke-width="1.1"/>
<line x1="644.2" x2="644.2" y1="307.5" y2="406.5" stroke="#000" stroke-opacity="0.88" stroke-width="1.1"/>
<line x1="644.2" x2="644.2" y1="241.5" y2="307.5" stroke="#000" stroke-opacity="0.88" stroke-width="3"/>
<circle cx="644.2" cy="274.5" r="1.25" fill="#fff"/>
<rect x="132.5" y="1.5" width="584.0" height="437.0" fill="none" stroke="#d0d0d0" stroke-width="3.0"/>
<text transform="translate(114.30,54.90) scale(0.94,1)" text-anchor="end" font-size="53">14</text>
<text transform="translate(114.30,119.90) scale(0.94,1)" text-anchor="end" font-size="53">12</text>
<text transform="translate(114.30,185.80) scale(0.94,1)" text-anchor="end" font-size="53">10</text>
<text transform="translate(114.30,251.90) scale(0.94,1)" text-anchor="end" font-size="53">8</text>
<text transform="translate(114.30,317.50) scale(0.94,1)" text-anchor="end" font-size="53">6</text>
<text transform="translate(114.30,383.70) scale(0.94,1)" text-anchor="end" font-size="53">4</text>
<text transform="translate(114.30,448.40) scale(0.94,1)" text-anchor="end" font-size="53">2</text>
<text transform="translate(43.0,241.1) rotate(-90) scale(0.965,1)" text-anchor="middle" font-size="53">WD <tspan dx="2" dy="1">值</tspan></text>
<text transform="translate(246.65,474.00) rotate(-45) scale(0.975,1)" text-anchor="end" font-size="53">文献<tspan dx="2" dy="1.2">[8]</tspan></text>
<text transform="translate(392.55,474.00) rotate(-45) scale(0.975,1)" text-anchor="end" font-size="53">文献<tspan dx="2" dy="1.2">[9]</tspan></text>
<text transform="translate(538.45,474.00) rotate(-45) scale(0.975,1)" text-anchor="end" font-size="53">文献<tspan dx="2" dy="1.2">[10]</tspan></text>
<text transform="translate(682.95,475.40) rotate(-45) scale(0.975,1)" text-anchor="end" font-size="53">本文方法</text>
<text transform="translate(427.80,674.50) scale(0.975,1)" text-anchor="middle" font-size="53">(a) 肝脏</text>
</g>
<g id="panel-b">
<line x1="890.4" x2="1475.5" y1="44.5" y2="44.5" stroke="#d0d0d0" stroke-width="3.0"/>
<line x1="890.4" x2="1475.5" y1="130.5" y2="130.5" stroke="#d0d0d0" stroke-width="3.0"/>
<line x1="890.4" x2="1475.5" y1="218.5" y2="218.5" stroke="#d0d0d0" stroke-width="3.0"/>
<line x1="890.4" x2="1475.5" y1="308.5" y2="308.5" stroke="#d0d0d0" stroke-width="3.0"/>
<line x1="890.4" x2="1475.5" y1="396.5" y2="396.5" stroke="#d0d0d0" stroke-width="3.0"/>
<path d="M948.82,327.76 L947.79,326.38 L946.76,325 L945.77,323.62 L944.81,322.24 L943.91,320.86 L943.06,319.48 L942.29,318.09 L941.6,316.71 L941,315.33 L940.49,313.95 L940.1,312.57 L939.81,311.19 L939.64,309.81 L939.59,308.42 L939.65,307.01 L939.83,305.6 L940.13,304.18 L940.53,302.77 L941.04,301.36 L941.65,299.95 L942.35,298.53 L943.12,297.12 L943.96,295.71 L944.86,294.29 L945.81,292.88 L946.78,291.47 L947.78,290.06 L948.79,288.64 L949.8,287.23 L950.79,285.82 L951.76,284.41 L952.69,282.99 L953.57,281.58 L954.41,280.17 L955.18,278.75 L955.88,277.34 L956.5,275.93 L957.04,274.52 L957.5,273.1 L957.85,271.69 L958.11,270.28 L958.26,268.86 L958.31,267.45 L958.24,266.04 L958.05,264.63 L957.75,263.21 L957.32,261.8 L956.77,260.39 L956.08,258.97 L955.27,257.56 L954.34,256.15 L953.27,254.74 L952.07,253.32 L950.75,251.91 L949.3,250.5 L947.74,249.09 L946.08,247.67 L944.31,246.26 L942.45,244.85 L940.52,243.43 L938.53,242.02 L936.49,240.61 L934.43,239.2 L932.36,237.78 L930.31,236.37 L928.29,234.96 L926.33,233.54 L924.45,232.13 L922.68,230.72 L921.04,229.31 L919.54,227.89 L918.21,226.48 L917.07,225.07 L916.13,223.65 L915.4,222.24 L914.9,220.83 L914.62,219.42 L914.59,218.01 L914.79,216.63 L915.22,215.25 L915.89,213.87 L916.77,212.49 L917.85,211.11 L919.13,209.73 L920.58,208.34 L922.18,206.96 L923.92,205.58 L925.76,204.2 L927.7,202.82 L929.7,201.44 L931.75,200.06 L933.82,198.67 L935.88,197.29 L937.93,195.91 L939.94,194.53 L941.89,193.15 L943.77,191.77 L945.56,190.39 L947.26,189 L948.85,187.62 L950.33,186.24 L951.69,184.86 L952.92,183.48 L954.03,182.1 L955.01,180.72 L955.86,179.33 L956.58,177.95 L957.17,176.57 L957.63,175.19 L957.97,173.81 L958.2,172.43 L958.3,171.05 L958.29,169.67 L958.17,168.28 L957.94,166.9 L957.61,165.52 L957.19,164.14 L956.67,162.76 L956.07,161.38 L955.39,160 L954.64,158.61 L953.83,157.23 L952.96,155.85 L952.04,154.47 L951.08,153.09 L950.09,151.71 L949.09,150.33 L948.08,148.94 L947.08,147.56 L946.09,146.18 L945.14,144.8 L944.22,143.42 L943.36,142.04 L942.57,140.66 L941.85,139.27 L941.21,137.89 L940.67,136.51 L940.24,135.13 L939.91,133.75 L939.69,132.37 L939.59,130.99 L939.61,129.6 L939.74,128.2 L940,126.81 L940.36,125.42 L940.83,124.03 L941.4,122.64 L942.06,121.24 L942.81,119.85 L943.63,118.46 L944.52,117.07 L945.45,115.67 L946.42,114.28 L947.43,112.89 L948.45,111.5 L949.47,110.1 L950.49,108.71 L951.5,107.32 L952.48,105.93 L953.42,104.53 L954.33,103.14 L955.18,101.75 L955.98,100.36 L956.72,98.96 L957.39,97.57 L958,96.18 L958.53,94.79 L958.98,93.39 L959.36,92 L959.66,90.61 L959.88,89.22 L960.02,87.83 L960.08,86.43 L960.05,85.04 L959.95,83.65 L959.76,82.26 L959.49,80.86 L959.15,79.47 L958.72,78.08 L958.22,76.69 L957.65,75.29 L957,73.9 L956.29,72.51 L955.51,71.12 L954.68,69.72 L953.8,68.33 L952.87,66.94 L951.9,65.55 L950.9,64.15 L949.89,62.76 L948.86,61.37 L947.84,59.98 L946.83,58.58 L945.84,57.19 L944.89,55.8 L943.98,54.41 L943.14,53.02 L942.36,51.62 L941.66,50.23 L941.05,48.84 L940.54,47.45 L940.13,46.05 L939.83,44.66 L939.65,43.27 L939.59,41.88 L939.64,40.48 L939.81,39.09 L940.1,37.7 L940.49,36.31 L941,34.91 L941.6,33.52 L942.29,32.13 L943.06,30.74 L943.91,29.34 L944.81,27.95 L945.77,26.56 L946.76,25.17 L947.79,23.77 L948.82,22.38 L980.38,22.38 L981.41,23.77 L982.44,25.17 L983.43,26.56 L984.39,27.95 L985.29,29.34 L986.14,30.74 L986.91,32.13 L987.6,33.52 L988.2,34.91 L988.71,36.31 L989.1,37.7 L989.39,39.09 L989.56,40.48 L989.61,41.88 L989.55,43.27 L989.37,44.66 L989.07,46.05 L988.66,47.45 L988.15,48.84 L987.54,50.23 L986.84,51.62 L986.06,53.02 L985.22,54.41 L984.31,55.8 L983.36,57.19 L982.37,58.58 L981.36,59.98 L980.34,61.37 L979.31,62.76 L978.3,64.15 L977.3,65.55 L976.33,66.94 L975.4,68.33 L974.52,69.72 L973.69,71.12 L972.91,72.51 L972.2,73.9 L971.55,75.29 L970.98,76.69 L970.48,78.08 L970.05,79.47 L969.71,80.86 L969.44,82.26 L969.25,83.65 L969.15,85.04 L969.12,86.43 L969.18,87.83 L969.32,89.22 L969.54,90.61 L969.84,92 L970.22,93.39 L970.67,94.79 L971.2,96.18 L971.81,97.57 L972.48,98.96 L973.22,100.36 L974.02,101.75 L974.87,103.14 L975.78,104.53 L976.72,105.93 L977.7,107.32 L978.71,108.71 L979.73,110.1 L980.75,111.5 L981.77,112.89 L982.78,114.28 L983.75,115.67 L984.68,117.07 L985.57,118.46 L986.39,119.85 L987.14,121.24 L987.8,122.64 L988.37,124.03 L988.84,125.42 L989.2,126.81 L989.46,128.2 L989.59,129.6 L989.61,130.99 L989.51,132.37 L989.29,133.75 L988.96,135.13 L988.53,136.51 L987.99,137.89 L987.35,139.27 L986.63,140.66 L985.84,142.04 L984.98,143.42 L984.06,144.8 L983.11,146.18 L982.12,147.56 L981.12,148.94 L980.11,150.33 L979.11,151.71 L978.12,153.09 L977.16,154.47 L976.24,155.85 L975.37,157.23 L974.56,158.61 L973.81,160 L973.13,161.38 L972.53,162.76 L972.01,164.14 L971.59,165.52 L971.26,166.9 L971.03,168.28 L970.91,169.67 L970.9,171.05 L971,172.43 L971.23,173.81 L971.57,175.19 L972.03,176.57 L972.62,177.95 L973.34,179.33 L974.19,180.72 L975.17,182.1 L976.28,183.48 L977.51,184.86 L978.87,186.24 L980.35,187.62 L981.94,189 L983.64,190.39 L985.43,191.77 L987.31,193.15 L989.26,194.53 L991.27,195.91 L993.32,197.29 L995.38,198.67 L997.45,200.06 L999.5,201.44 L1001.5,202.82 L1003.44,204.2 L1005.28,205.58 L1007.02,206.96 L1008.62,208.34 L1010.07,209.73 L1011.35,211.11 L1012.43,212.49 L1013.31,213.87 L1013.98,215.25 L1014.41,216.63 L1014.61,218.01 L1014.58,219.42 L1014.3,220.83 L1013.8,222.24 L1013.07,223.65 L1012.13,225.07 L1010.99,226.48 L1009.66,227.89 L1008.16,229.31 L1006.52,230.72 L1004.75,232.13 L1002.87,233.54 L1000.91,234.96 L998.89,236.37 L996.84,237.78 L994.77,239.2 L992.71,240.61 L990.67,242.02 L988.68,243.43 L986.75,244.85 L984.89,246.26 L983.12,247.67 L981.46,249.09 L979.9,250.5 L978.45,251.91 L977.13,253.32 L975.93,254.74 L974.86,256.15 L973.93,257.56 L973.12,258.97 L972.43,260.39 L971.88,261.8 L971.45,263.21 L971.15,264.63 L970.96,266.04 L970.89,267.45 L970.94,268.86 L971.09,270.28 L971.35,271.69 L971.7,273.1 L972.16,274.52 L972.7,275.93 L973.32,277.34 L974.02,278.75 L974.79,280.17 L975.63,281.58 L976.51,282.99 L977.44,284.41 L978.41,285.82 L979.4,287.23 L980.41,288.64 L981.42,290.06 L982.42,291.47 L983.39,292.88 L984.34,294.29 L985.24,295.71 L986.08,297.12 L986.85,298.53 L987.55,299.95 L988.16,301.36 L988.67,302.77 L989.07,304.18 L989.37,305.6 L989.55,307.01 L989.61,308.42 L989.56,309.81 L989.39,311.19 L989.1,312.57 L988.71,313.95 L988.2,315.33 L987.6,316.71 L986.91,318.09 L986.14,319.48 L985.29,320.86 L984.39,322.24 L983.43,323.62 L982.44,325 L981.41,326.38 L980.38,327.76Z" fill="#8ac0b0" stroke="#000" stroke-opacity="0.9" stroke-width="1" stroke-linejoin="round"/>
<line x1="964.6" x2="964.6" y1="41.8" y2="130.5" stroke="#000" stroke-opacity="0.88" stroke-width="1.1"/>
<line x1="964.6" x2="964.6" y1="218.5" y2="308.5" stroke="#000" stroke-opacity="0.88" stroke-width="1.1"/>
<line x1="964.6" x2="964.6" y1="130.5" y2="218.5" stroke="#000" stroke-opacity="0.88" stroke-width="3"/>
<circle cx="964.6" cy="218.5" r="1.25" fill="#fff"/>
<path d="M1097.13,419.33 L1096.27,417.71 L1095.42,416.1 L1094.59,414.48 L1093.79,412.87 L1093.03,411.25 L1092.33,409.64 L1091.68,408.02 L1091.09,406.41 L1090.58,404.79 L1090.15,403.18 L1089.8,401.56 L1089.55,399.95 L1089.39,398.33 L1089.32,396.72 L1089.35,395.1 L1089.47,393.49 L1089.69,391.87 L1090,390.26 L1090.39,388.64 L1090.86,387.03 L1091.4,385.41 L1092.01,383.8 L1092.67,382.18 L1093.37,380.57 L1094.11,378.95 L1094.87,377.34 L1095.65,375.72 L1096.43,374.11 L1097.21,372.49 L1097.96,370.88 L1098.69,369.27 L1099.38,367.65 L1100.03,366.04 L1100.62,364.42 L1101.16,362.81 L1101.63,361.19 L1102.02,359.58 L1102.34,357.96 L1102.58,356.35 L1102.73,354.73 L1102.81,353.12 L1102.79,351.5 L1102.69,349.89 L1102.5,348.27 L1102.23,346.66 L1101.87,345.04 L1101.44,343.43 L1100.93,341.81 L1100.36,340.2 L1099.72,338.58 L1099.02,336.97 L1098.27,335.35 L1097.48,333.74 L1096.65,332.12 L1095.8,330.51 L1094.93,328.89 L1094.05,327.28 L1093.16,325.66 L1092.28,324.05 L1091.42,322.43 L1090.58,320.82 L1089.77,319.21 L1089,317.59 L1088.26,315.98 L1087.58,314.36 L1086.94,312.75 L1086.35,311.13 L1085.82,309.52 L1085.34,307.89 L1084.91,306.24 L1084.54,304.58 L1084.21,302.93 L1083.93,301.28 L1083.69,299.63 L1083.5,297.98 L1083.34,296.33 L1083.21,294.68 L1083.11,293.02 L1083.03,291.37 L1082.98,289.72 L1082.95,288.07 L1082.93,286.42 L1082.94,284.77 L1082.96,283.11 L1083,281.46 L1083.07,279.81 L1083.15,278.16 L1083.27,276.51 L1083.41,274.86 L1083.59,273.21 L1083.81,271.55 L1084.06,269.9 L1084.36,268.25 L1084.71,266.6 L1085.12,264.95 L1085.57,263.3 L1086.07,261.64 L1086.63,259.99 L1087.25,258.34 L1087.91,256.69 L1088.62,255.04 L1089.38,253.39 L1090.17,251.74 L1090.99,250.08 L1091.85,248.43 L1092.72,246.78 L1093.6,245.13 L1094.48,243.48 L1095.36,241.83 L1096.23,240.17 L1097.07,238.52 L1097.88,236.87 L1098.65,235.22 L1099.37,233.57 L1100.04,231.92 L1100.65,230.26 L1101.19,228.61 L1101.66,226.96 L1102.06,225.31 L1102.37,223.66 L1102.6,222.01 L1102.75,220.36 L1102.81,218.7 L1102.78,217.08 L1102.67,215.47 L1102.47,213.86 L1102.19,212.24 L1101.83,210.63 L1101.4,209.01 L1100.9,207.4 L1100.34,205.78 L1099.71,204.17 L1099.04,202.55 L1098.33,200.94 L1097.59,199.32 L1096.82,197.71 L1096.05,196.09 L1095.27,194.48 L1094.49,192.86 L1093.74,191.25 L1093.02,189.63 L1092.33,188.02 L1091.7,186.4 L1091.12,184.79 L1090.61,183.17 L1090.18,181.56 L1089.83,179.94 L1089.56,178.33 L1089.38,176.71 L1089.3,175.1 L1089.31,173.48 L1089.42,171.87 L1089.62,170.25 L1089.91,168.64 L1090.28,167.02 L1090.74,165.41 L1091.26,163.79 L1091.86,162.18 L1092.5,160.57 L1093.2,158.95 L1093.93,157.34 L1094.69,155.72 L1095.47,154.11 L1096.25,152.49 L1097.02,150.88 L1097.79,149.26 L1098.52,147.65 L1099.22,146.03 L1099.88,144.42 L1100.49,142.8 L1101.04,141.19 L1101.53,139.57 L1101.94,137.96 L1102.28,136.34 L1102.54,134.73 L1102.72,133.11 L1102.82,131.5 L1102.83,129.88 L1102.75,128.25 L1102.59,126.62 L1102.35,125 L1102.03,123.37 L1101.63,121.74 L1101.16,120.11 L1100.63,118.48 L1100.03,116.86 L1099.38,115.23 L1098.69,113.6 L1097.96,111.97 L1097.21,110.35 L1096.43,108.72 L1095.65,107.09 L1094.87,105.46 L1094.11,103.84 L1093.37,102.21 L1092.67,100.58 L1092.01,98.95 L1091.4,97.32 L1090.86,95.7 L1090.39,94.07 L1090,92.44 L1089.69,90.81 L1089.47,89.19 L1089.35,87.56 L1089.32,85.93 L1089.39,84.3 L1089.55,82.68 L1089.8,81.05 L1090.15,79.42 L1090.58,77.79 L1091.09,76.16 L1091.68,74.54 L1092.33,72.91 L1093.03,71.28 L1093.79,69.65 L1094.59,68.03 L1095.42,66.4 L1096.27,64.77 L1097.13,63.14 L1123.77,63.14 L1124.63,64.77 L1125.48,66.4 L1126.31,68.03 L1127.11,69.65 L1127.87,71.28 L1128.57,72.91 L1129.22,74.54 L1129.81,76.16 L1130.32,77.79 L1130.75,79.42 L1131.1,81.05 L1131.35,82.68 L1131.51,84.3 L1131.58,85.93 L1131.55,87.56 L1131.43,89.19 L1131.21,90.81 L1130.9,92.44 L1130.51,94.07 L1130.04,95.7 L1129.5,97.32 L1128.89,98.95 L1128.23,100.58 L1127.53,102.21 L1126.79,103.84 L1126.03,105.46 L1125.25,107.09 L1124.47,108.72 L1123.69,110.35 L1122.94,111.97 L1122.21,113.6 L1121.52,115.23 L1120.87,116.86 L1120.27,118.48 L1119.74,120.11 L1119.27,121.74 L1118.87,123.37 L1118.55,125 L1118.31,126.62 L1118.15,128.25 L1118.07,129.88 L1118.08,131.5 L1118.18,133.11 L1118.36,134.73 L1118.62,136.34 L1118.96,137.96 L1119.37,139.57 L1119.86,141.19 L1120.41,142.8 L1121.02,144.42 L1121.68,146.03 L1122.38,147.65 L1123.11,149.26 L1123.88,150.88 L1124.65,152.49 L1125.43,154.11 L1126.21,155.72 L1126.97,157.34 L1127.7,158.95 L1128.4,160.57 L1129.04,162.18 L1129.64,163.79 L1130.16,165.41 L1130.62,167.02 L1130.99,168.64 L1131.28,170.25 L1131.48,171.87 L1131.59,173.48 L1131.6,175.1 L1131.52,176.71 L1131.34,178.33 L1131.07,179.94 L1130.72,181.56 L1130.29,183.17 L1129.78,184.79 L1129.2,186.4 L1128.57,188.02 L1127.88,189.63 L1127.16,191.25 L1126.41,192.86 L1125.63,194.48 L1124.85,196.09 L1124.08,197.71 L1123.31,199.32 L1122.57,200.94 L1121.86,202.55 L1121.19,204.17 L1120.56,205.78 L1120,207.4 L1119.5,209.01 L1119.07,210.63 L1118.71,212.24 L1118.43,213.86 L1118.23,215.47 L1118.12,217.08 L1118.09,218.7 L1118.15,220.36 L1118.3,222.01 L1118.53,223.66 L1118.84,225.31 L1119.24,226.96 L1119.71,228.61 L1120.25,230.26 L1120.86,231.92 L1121.53,233.57 L1122.25,235.22 L1123.02,236.87 L1123.83,238.52 L1124.67,240.17 L1125.54,241.83 L1126.42,243.48 L1127.3,245.13 L1128.18,246.78 L1129.05,248.43 L1129.91,250.08 L1130.73,251.74 L1131.52,253.39 L1132.28,255.04 L1132.99,256.69 L1133.65,258.34 L1134.27,259.99 L1134.83,261.64 L1135.33,263.3 L1135.78,264.95 L1136.19,266.6 L1136.54,268.25 L1136.84,269.9 L1137.09,271.55 L1137.31,273.21 L1137.49,274.86 L1137.63,276.51 L1137.75,278.16 L1137.83,279.81 L1137.9,281.46 L1137.94,283.11 L1137.96,284.77 L1137.97,286.42 L1137.95,288.07 L1137.92,289.72 L1137.87,291.37 L1137.79,293.02 L1137.69,294.68 L1137.56,296.33 L1137.4,297.98 L1137.21,299.63 L1136.97,301.28 L1136.69,302.93 L1136.36,304.58 L1135.99,306.24 L1135.56,307.89 L1135.08,309.52 L1134.55,311.13 L1133.96,312.75 L1133.32,314.36 L1132.64,315.98 L1131.9,317.59 L1131.13,319.21 L1130.32,320.82 L1129.48,322.43 L1128.62,324.05 L1127.74,325.66 L1126.85,327.28 L1125.97,328.89 L1125.1,330.51 L1124.25,332.12 L1123.42,333.74 L1122.63,335.35 L1121.88,336.97 L1121.18,338.58 L1120.54,340.2 L1119.97,341.81 L1119.46,343.43 L1119.03,345.04 L1118.67,346.66 L1118.4,348.27 L1118.21,349.89 L1118.11,351.5 L1118.09,353.12 L1118.17,354.73 L1118.32,356.35 L1118.56,357.96 L1118.88,359.58 L1119.27,361.19 L1119.74,362.81 L1120.28,364.42 L1120.87,366.04 L1121.52,367.65 L1122.21,369.27 L1122.94,370.88 L1123.69,372.49 L1124.47,374.11 L1125.25,375.72 L1126.03,377.34 L1126.79,378.95 L1127.53,380.57 L1128.23,382.18 L1128.89,383.8 L1129.5,385.41 L1130.04,387.03 L1130.51,388.64 L1130.9,390.26 L1131.21,391.87 L1131.43,393.49 L1131.55,395.1 L1131.58,396.72 L1131.51,398.33 L1131.35,399.95 L1131.1,401.56 L1130.75,403.18 L1130.32,404.79 L1129.81,406.41 L1129.22,408.02 L1128.57,409.64 L1127.87,411.25 L1127.11,412.87 L1126.31,414.48 L1125.48,416.1 L1124.63,417.71 L1123.77,419.33Z" fill="#e8eaa6" stroke="#000" stroke-opacity="0.9" stroke-width="1" stroke-linejoin="round"/>
<line x1="1110.45" x2="1110.45" y1="86.15" y2="174.5" stroke="#000" stroke-opacity="0.88" stroke-width="1.1"/>
<line x1="1110.45" x2="1110.45" y1="308.5" y2="396.5" stroke="#000" stroke-opacity="0.88" stroke-width="1.1"/>
<line x1="1110.45" x2="1110.45" y1="174.5" y2="308.5" stroke="#000" stroke-opacity="0.88" stroke-width="3"/>
<circle cx="1110.45" cy="263.5" r="1.25" fill="#fff"/>
<path d="M1222.98,370.81 L1221.01,369.64 L1219.05,368.47 L1217.13,367.3 L1215.26,366.13 L1213.45,364.96 L1211.73,363.78 L1210.11,362.61 L1208.6,361.44 L1207.21,360.27 L1205.96,359.1 L1204.85,357.92 L1203.9,356.75 L1203.11,355.58 L1202.49,354.41 L1202.04,353.24 L1201.76,352.07 L1201.64,350.89 L1201.69,349.72 L1201.9,348.55 L1202.25,347.38 L1202.74,346.21 L1203.36,345.03 L1204.09,343.86 L1204.92,342.69 L1205.83,341.52 L1206.82,340.35 L1207.85,339.18 L1208.92,338 L1210.01,336.83 L1211.11,335.66 L1212.2,334.49 L1213.27,333.32 L1214.32,332.14 L1215.32,330.97 L1216.27,329.8 L1217.17,328.63 L1218.01,327.46 L1218.79,326.29 L1219.52,325.11 L1220.18,323.94 L1220.79,322.77 L1221.35,321.6 L1221.86,320.43 L1222.33,319.25 L1222.77,318.08 L1223.19,316.91 L1223.6,315.74 L1224,314.57 L1224.41,313.4 L1224.82,312.22 L1225.26,311.05 L1225.72,309.88 L1226.22,308.71 L1226.75,307.51 L1227.33,306.32 L1227.95,305.12 L1228.62,303.92 L1229.34,302.72 L1230.1,301.52 L1230.92,300.32 L1231.77,299.13 L1232.67,297.93 L1233.6,296.73 L1234.56,295.53 L1235.55,294.33 L1236.55,293.13 L1237.57,291.93 L1238.59,290.74 L1239.62,289.54 L1240.63,288.34 L1241.63,287.14 L1242.62,285.94 L1243.57,284.74 L1244.5,283.55 L1245.39,282.35 L1246.25,281.15 L1247.05,279.95 L1247.81,278.75 L1248.52,277.55 L1249.18,276.35 L1249.79,275.16 L1250.33,273.96 L1250.83,272.76 L1251.26,271.56 L1251.63,270.36 L1251.94,269.16 L1252.2,267.97 L1252.39,266.77 L1252.53,265.57 L1252.6,264.37 L1252.61,263.17 L1252.57,261.97 L1252.46,260.77 L1252.3,259.58 L1252.07,258.38 L1251.78,257.18 L1251.44,255.98 L1251.04,254.78 L1250.57,253.58 L1250.06,252.39 L1249.48,251.19 L1248.85,249.99 L1248.17,248.79 L1247.44,247.59 L1246.66,246.39 L1245.85,245.19 L1244.99,244 L1244.09,242.8 L1243.17,241.6 L1242.23,240.4 L1241.27,239.2 L1240.3,238 L1239.33,236.81 L1238.36,235.61 L1237.41,234.41 L1236.48,233.21 L1235.59,232.01 L1234.73,230.81 L1233.92,229.61 L1233.17,228.42 L1232.49,227.22 L1231.87,226.02 L1231.33,224.82 L1230.88,223.62 L1230.52,222.42 L1230.25,221.23 L1230.07,220.03 L1229.99,218.83 L1230.02,217.65 L1230.14,216.48 L1230.36,215.31 L1230.67,214.13 L1231.08,212.96 L1231.57,211.79 L1232.14,210.62 L1232.79,209.45 L1233.51,208.27 L1234.28,207.1 L1235.11,205.93 L1235.99,204.76 L1236.9,203.59 L1237.84,202.42 L1238.8,201.24 L1239.77,200.07 L1240.74,198.9 L1241.7,197.73 L1242.66,196.56 L1243.59,195.38 L1244.5,194.21 L1245.38,193.04 L1246.22,191.87 L1247.02,190.7 L1247.78,189.53 L1248.49,188.35 L1249.14,187.18 L1249.75,186.01 L1250.3,184.84 L1250.79,183.67 L1251.23,182.49 L1251.6,181.32 L1251.92,180.15 L1252.18,178.98 L1252.38,177.81 L1252.52,176.64 L1252.6,175.46 L1252.62,174.29 L1252.58,173.12 L1252.48,171.95 L1252.32,170.78 L1252.1,169.6 L1251.82,168.43 L1251.48,167.26 L1251.08,166.09 L1250.62,164.92 L1250.11,163.75 L1249.54,162.57 L1248.92,161.4 L1248.24,160.23 L1247.51,159.06 L1246.74,157.89 L1245.93,156.71 L1245.07,155.54 L1244.18,154.37 L1243.26,153.2 L1242.32,152.03 L1241.36,150.86 L1240.39,149.68 L1239.42,148.51 L1238.46,147.34 L1237.5,146.17 L1236.57,145 L1235.67,143.82 L1234.81,142.65 L1234,141.48 L1233.24,140.31 L1232.55,139.14 L1231.93,137.97 L1231.38,136.79 L1230.92,135.62 L1230.55,134.45 L1230.27,133.28 L1230.08,132.11 L1230,130.93 L1230.01,129.76 L1230.12,128.58 L1230.33,127.39 L1230.64,126.21 L1231.03,125.03 L1231.52,123.85 L1232.09,122.67 L1232.73,121.49 L1233.44,120.31 L1234.21,119.13 L1235.04,117.95 L1235.92,116.76 L1236.83,115.58 L1237.77,114.4 L1238.73,113.22 L1239.71,112.04 L1272.89,112.04 L1273.87,113.22 L1274.83,114.4 L1275.77,115.58 L1276.68,116.76 L1277.56,117.95 L1278.39,119.13 L1279.16,120.31 L1279.87,121.49 L1280.51,122.67 L1281.08,123.85 L1281.57,125.03 L1281.96,126.21 L1282.27,127.39 L1282.48,128.58 L1282.59,129.76 L1282.6,130.93 L1282.52,132.11 L1282.33,133.28 L1282.05,134.45 L1281.68,135.62 L1281.22,136.79 L1280.67,137.97 L1280.05,139.14 L1279.36,140.31 L1278.6,141.48 L1277.79,142.65 L1276.93,143.82 L1276.03,145 L1275.1,146.17 L1274.14,147.34 L1273.18,148.51 L1272.21,149.68 L1271.24,150.86 L1270.28,152.03 L1269.34,153.2 L1268.42,154.37 L1267.53,155.54 L1266.67,156.71 L1265.86,157.89 L1265.09,159.06 L1264.36,160.23 L1263.68,161.4 L1263.06,162.57 L1262.49,163.75 L1261.98,164.92 L1261.52,166.09 L1261.12,167.26 L1260.78,168.43 L1260.5,169.6 L1260.28,170.78 L1260.12,171.95 L1260.02,173.12 L1259.98,174.29 L1260,175.46 L1260.08,176.64 L1260.22,177.81 L1260.42,178.98 L1260.68,180.15 L1261,181.32 L1261.37,182.49 L1261.81,183.67 L1262.3,184.84 L1262.85,186.01 L1263.46,187.18 L1264.11,188.35 L1264.82,189.53 L1265.58,190.7 L1266.38,191.87 L1267.22,193.04 L1268.1,194.21 L1269.01,195.38 L1269.94,196.56 L1270.9,197.73 L1271.86,198.9 L1272.83,200.07 L1273.8,201.24 L1274.76,202.42 L1275.7,203.59 L1276.61,204.76 L1277.49,205.93 L1278.32,207.1 L1279.09,208.27 L1279.81,209.45 L1280.46,210.62 L1281.03,211.79 L1281.52,212.96 L1281.93,214.13 L1282.24,215.31 L1282.46,216.48 L1282.58,217.65 L1282.61,218.83 L1282.53,220.03 L1282.35,221.23 L1282.08,222.42 L1281.72,223.62 L1281.27,224.82 L1280.73,226.02 L1280.11,227.22 L1279.43,228.42 L1278.68,229.61 L1277.87,230.81 L1277.01,232.01 L1276.12,233.21 L1275.19,234.41 L1274.24,235.61 L1273.27,236.81 L1272.3,238 L1271.33,239.2 L1270.37,240.4 L1269.43,241.6 L1268.51,242.8 L1267.61,244 L1266.75,245.19 L1265.94,246.39 L1265.16,247.59 L1264.43,248.79 L1263.75,249.99 L1263.12,251.19 L1262.54,252.39 L1262.03,253.58 L1261.56,254.78 L1261.16,255.98 L1260.82,257.18 L1260.53,258.38 L1260.3,259.58 L1260.14,260.77 L1260.03,261.97 L1259.99,263.17 L1260,264.37 L1260.07,265.57 L1260.21,266.77 L1260.4,267.97 L1260.66,269.16 L1260.97,270.36 L1261.34,271.56 L1261.77,272.76 L1262.27,273.96 L1262.81,275.16 L1263.42,276.35 L1264.08,277.55 L1264.79,278.75 L1265.55,279.95 L1266.35,281.15 L1267.21,282.35 L1268.1,283.55 L1269.03,284.74 L1269.98,285.94 L1270.97,287.14 L1271.97,288.34 L1272.98,289.54 L1274.01,290.74 L1275.03,291.93 L1276.05,293.13 L1277.05,294.33 L1278.04,295.53 L1279,296.73 L1279.93,297.93 L1280.83,299.13 L1281.68,300.32 L1282.5,301.52 L1283.26,302.72 L1283.98,303.92 L1284.65,305.12 L1285.27,306.32 L1285.85,307.51 L1286.38,308.71 L1286.88,309.88 L1287.34,311.05 L1287.78,312.22 L1288.19,313.4 L1288.6,314.57 L1289,315.74 L1289.41,316.91 L1289.83,318.08 L1290.27,319.25 L1290.74,320.43 L1291.25,321.6 L1291.81,322.77 L1292.42,323.94 L1293.08,325.11 L1293.81,326.29 L1294.59,327.46 L1295.43,328.63 L1296.33,329.8 L1297.28,330.97 L1298.28,332.14 L1299.33,333.32 L1300.4,334.49 L1301.49,335.66 L1302.59,336.83 L1303.68,338 L1304.75,339.18 L1305.78,340.35 L1306.77,341.52 L1307.68,342.69 L1308.51,343.86 L1309.24,345.03 L1309.86,346.21 L1310.35,347.38 L1310.7,348.55 L1310.91,349.72 L1310.96,350.89 L1310.84,352.07 L1310.56,353.24 L1310.11,354.41 L1309.49,355.58 L1308.7,356.75 L1307.75,357.92 L1306.64,359.1 L1305.39,360.27 L1304,361.44 L1302.49,362.61 L1300.87,363.78 L1299.15,364.96 L1297.34,366.13 L1295.47,367.3 L1293.55,368.47 L1291.59,369.64 L1289.62,370.81Z" fill="#b4b0d0" stroke="#000" stroke-opacity="0.9" stroke-width="1" stroke-linejoin="round"/>
<line x1="1256.3" x2="1256.3" y1="130.5" y2="218.5" stroke="#000" stroke-opacity="0.88" stroke-width="1.1"/>
<line x1="1256.3" x2="1256.3" y1="218.5" y2="352.5" stroke="#000" stroke-opacity="0.88" stroke-width="3"/>
<circle cx="1256.3" cy="308.5" r="1.25" fill="#fff"/>
<path d="M1371.8,406.67 L1369.82,405.98 L1367.85,405.28 L1365.91,404.59 L1364,403.89 L1362.14,403.19 L1360.35,402.5 L1358.65,401.8 L1357.03,401.11 L1355.52,400.41 L1354.12,399.72 L1352.85,399.02 L1351.7,398.33 L1350.67,397.63 L1349.78,396.93 L1349.02,396.24 L1348.37,395.54 L1347.85,394.85 L1347.43,394.15 L1347.11,393.46 L1346.88,392.76 L1346.72,392.06 L1346.63,391.37 L1346.58,390.67 L1346.57,389.98 L1346.58,389.28 L1346.59,388.59 L1346.61,387.89 L1346.61,387.19 L1346.59,386.5 L1346.54,385.8 L1346.46,385.11 L1346.35,384.41 L1346.21,383.72 L1346.03,383.02 L1345.83,382.33 L1345.6,381.63 L1345.36,380.93 L1345.12,380.24 L1344.87,379.54 L1344.63,378.85 L1344.41,378.15 L1344.21,377.46 L1344.05,376.76 L1343.93,376.06 L1343.85,375.37 L1343.81,374.67 L1343.82,373.98 L1343.88,373.28 L1343.98,372.59 L1344.13,371.89 L1344.31,371.2 L1344.52,370.5 L1344.75,369.8 L1344.99,369.11 L1345.24,368.41 L1345.49,367.72 L1345.72,367.02 L1345.93,366.33 L1346.12,365.63 L1346.28,364.93 L1346.41,364.24 L1346.5,363.54 L1346.57,362.85 L1346.6,362.15 L1346.61,361.46 L1346.6,360.76 L1346.58,360.06 L1346.57,359.37 L1346.57,358.67 L1346.6,357.98 L1346.67,357.28 L1346.79,356.59 L1346.98,355.89 L1347.26,355.2 L1347.62,354.5 L1348.09,353.8 L1348.67,353.11 L1349.38,352.41 L1350.2,351.72 L1351.16,351.02 L1352.24,350.33 L1353.45,349.63 L1354.78,348.93 L1356.22,348.24 L1357.78,347.54 L1359.43,346.85 L1361.16,346.15 L1362.96,345.46 L1364.82,344.76 L1366.71,344.07 L1368.63,343.37 L1370.56,342.67 L1372.47,341.98 L1374.36,341.28 L1376.21,340.59 L1378,339.89 L1379.72,339.2 L1381.35,338.5 L1382.89,337.8 L1384.32,337.11 L1385.64,336.41 L1386.83,335.72 L1387.89,335.02 L1388.8,334.33 L1389.57,333.63 L1390.2,332.93 L1390.67,332.24 L1390.98,331.54 L1391.14,330.85 L1391.15,330.15 L1390.99,329.46 L1390.68,328.76 L1390.22,328.07 L1389.6,327.37 L1388.84,326.67 L1387.93,325.98 L1386.89,325.28 L1385.71,324.59 L1384.42,323.89 L1383.01,323.2 L1381.5,322.5 L1379.9,321.8 L1378.23,321.11 L1376.49,320.41 L1374.71,319.72 L1372.9,319.02 L1371.08,318.33 L1369.26,317.63 L1367.48,316.93 L1365.74,316.24 L1364.07,315.54 L1362.48,314.85 L1361,314.15 L1359.64,313.46 L1358.42,312.76 L1357.36,312.07 L1356.46,311.37 L1355.75,310.67 L1355.22,309.98 L1354.9,309.28 L1354.77,308.59 L1354.85,307.88 L1355.12,307.17 L1355.6,306.45 L1356.27,305.74 L1357.12,305.03 L1358.14,304.32 L1359.32,303.61 L1360.65,302.9 L1362.1,302.19 L1363.66,301.47 L1365.31,300.76 L1367.04,300.05 L1368.81,299.34 L1370.62,298.63 L1372.44,297.92 L1374.26,297.21 L1376.05,296.49 L1377.8,295.78 L1379.49,295.07 L1381.11,294.36 L1382.64,293.65 L1384.07,292.94 L1385.4,292.23 L1386.6,291.51 L1387.68,290.8 L1388.62,290.09 L1389.42,289.38 L1390.08,288.67 L1390.58,287.96 L1390.93,287.25 L1391.13,286.53 L1391.17,285.82 L1391.05,285.11 L1390.78,284.4 L1390.35,283.69 L1389.77,282.98 L1389.04,282.27 L1388.17,281.55 L1387.16,280.84 L1386.02,280.13 L1384.75,279.42 L1383.37,278.71 L1381.89,278 L1380.31,277.29 L1378.65,276.57 L1376.93,275.86 L1375.16,275.15 L1373.35,274.44 L1371.53,273.73 L1369.72,273.02 L1367.92,272.31 L1366.17,271.59 L1364.48,270.88 L1362.87,270.17 L1361.36,269.46 L1359.97,268.75 L1358.71,268.04 L1357.61,267.33 L1356.67,266.61 L1355.91,265.9 L1355.34,265.19 L1354.97,264.48 L1354.79,263.77 L1354.82,263.06 L1355.05,262.34 L1355.48,261.63 L1356.1,260.92 L1356.92,260.21 L1357.9,259.5 L1359.06,258.79 L1360.36,258.08 L1361.8,257.36 L1363.35,256.65 L1365.01,255.94 L1366.75,255.23 L1368.55,254.52 L1370.4,253.81 L1372.27,253.1 L1432.03,253.1 L1433.9,253.81 L1435.75,254.52 L1437.55,255.23 L1439.29,255.94 L1440.95,256.65 L1442.5,257.36 L1443.94,258.08 L1445.24,258.79 L1446.4,259.5 L1447.38,260.21 L1448.2,260.92 L1448.82,261.63 L1449.25,262.34 L1449.48,263.06 L1449.51,263.77 L1449.33,264.48 L1448.96,265.19 L1448.39,265.9 L1447.63,266.61 L1446.69,267.33 L1445.59,268.04 L1444.33,268.75 L1442.94,269.46 L1441.43,270.17 L1439.82,270.88 L1438.13,271.59 L1436.38,272.31 L1434.58,273.02 L1432.77,273.73 L1430.95,274.44 L1429.14,275.15 L1427.37,275.86 L1425.65,276.57 L1423.99,277.29 L1422.41,278 L1420.93,278.71 L1419.55,279.42 L1418.28,280.13 L1417.14,280.84 L1416.13,281.55 L1415.26,282.27 L1414.53,282.98 L1413.95,283.69 L1413.52,284.4 L1413.25,285.11 L1413.13,285.82 L1413.17,286.53 L1413.37,287.25 L1413.72,287.96 L1414.22,288.67 L1414.88,289.38 L1415.68,290.09 L1416.62,290.8 L1417.7,291.51 L1418.9,292.23 L1420.23,292.94 L1421.66,293.65 L1423.19,294.36 L1424.81,295.07 L1426.5,295.78 L1428.25,296.49 L1430.04,297.21 L1431.86,297.92 L1433.68,298.63 L1435.49,299.34 L1437.26,300.05 L1438.99,300.76 L1440.64,301.47 L1442.2,302.19 L1443.65,302.9 L1444.98,303.61 L1446.16,304.32 L1447.18,305.03 L1448.03,305.74 L1448.7,306.45 L1449.18,307.17 L1449.45,307.88 L1449.53,308.59 L1449.4,309.28 L1449.08,309.98 L1448.55,310.67 L1447.84,311.37 L1446.94,312.07 L1445.88,312.76 L1444.66,313.46 L1443.3,314.15 L1441.82,314.85 L1440.23,315.54 L1438.56,316.24 L1436.82,316.93 L1435.04,317.63 L1433.22,318.33 L1431.4,319.02 L1429.59,319.72 L1427.81,320.41 L1426.07,321.11 L1424.4,321.8 L1422.8,322.5 L1421.29,323.2 L1419.88,323.89 L1418.59,324.59 L1417.41,325.28 L1416.37,325.98 L1415.46,326.67 L1414.7,327.37 L1414.08,328.07 L1413.62,328.76 L1413.31,329.46 L1413.15,330.15 L1413.16,330.85 L1413.32,331.54 L1413.63,332.24 L1414.1,332.93 L1414.73,333.63 L1415.5,334.33 L1416.41,335.02 L1417.47,335.72 L1418.66,336.41 L1419.98,337.11 L1421.41,337.8 L1422.95,338.5 L1424.58,339.2 L1426.3,339.89 L1428.09,340.59 L1429.94,341.28 L1431.83,341.98 L1433.74,342.67 L1435.67,343.37 L1437.59,344.07 L1439.48,344.76 L1441.34,345.46 L1443.14,346.15 L1444.87,346.85 L1446.52,347.54 L1448.08,348.24 L1449.52,348.93 L1450.85,349.63 L1452.06,350.33 L1453.14,351.02 L1454.1,351.72 L1454.92,352.41 L1455.63,353.11 L1456.21,353.8 L1456.68,354.5 L1457.04,355.2 L1457.32,355.89 L1457.51,356.59 L1457.63,357.28 L1457.7,357.98 L1457.73,358.67 L1457.73,359.37 L1457.72,360.06 L1457.7,360.76 L1457.69,361.46 L1457.7,362.15 L1457.73,362.85 L1457.8,363.54 L1457.89,364.24 L1458.02,364.93 L1458.18,365.63 L1458.37,366.33 L1458.58,367.02 L1458.81,367.72 L1459.06,368.41 L1459.31,369.11 L1459.55,369.8 L1459.78,370.5 L1459.99,371.2 L1460.17,371.89 L1460.32,372.59 L1460.42,373.28 L1460.48,373.98 L1460.49,374.67 L1460.45,375.37 L1460.37,376.06 L1460.25,376.76 L1460.09,377.46 L1459.89,378.15 L1459.67,378.85 L1459.43,379.54 L1459.18,380.24 L1458.94,380.93 L1458.7,381.63 L1458.47,382.33 L1458.27,383.02 L1458.09,383.72 L1457.95,384.41 L1457.84,385.11 L1457.76,385.8 L1457.71,386.5 L1457.69,387.19 L1457.69,387.89 L1457.71,388.59 L1457.72,389.28 L1457.73,389.98 L1457.72,390.67 L1457.67,391.37 L1457.58,392.06 L1457.42,392.76 L1457.19,393.46 L1456.87,394.15 L1456.45,394.85 L1455.93,395.54 L1455.28,396.24 L1454.52,396.93 L1453.63,397.63 L1452.6,398.33 L1451.45,399.02 L1450.18,399.72 L1448.78,400.41 L1447.27,401.11 L1445.65,401.8 L1443.95,402.5 L1442.16,403.19 L1440.3,403.89 L1438.39,404.59 L1436.45,405.28 L1434.48,405.98 L1432.5,406.67Z" fill="#d6717c" stroke="#000" stroke-opacity="0.9" stroke-width="1" stroke-linejoin="round"/>
<line x1="1402.15" x2="1402.15" y1="263.5" y2="308.5" stroke="#000" stroke-opacity="0.88" stroke-width="1.1"/>
<line x1="1402.15" x2="1402.15" y1="374.5" y2="396.5" stroke="#000" stroke-opacity="0.88" stroke-width="1.1"/>
<line x1="1402.15" x2="1402.15" y1="308.5" y2="374.5" stroke="#000" stroke-opacity="0.88" stroke-width="3"/>
<circle cx="1402.15" cy="352.5" r="1.25" fill="#fff"/>
<rect x="890.4" y="1.5" width="585.1" height="437.0" fill="none" stroke="#d0d0d0" stroke-width="3.0"/>
<text transform="translate(874.10,51.30) scale(0.94,1)" text-anchor="end" font-size="53">12</text>
<text transform="translate(874.10,140.50) scale(0.94,1)" text-anchor="end" font-size="53">10</text>
<text transform="translate(872.50,230.00) scale(0.94,1)" text-anchor="end" font-size="53">8</text>
<text transform="translate(872.50,318.40) scale(0.94,1)" text-anchor="end" font-size="53">6</text>
<text transform="translate(872.50,406.40) scale(0.94,1)" text-anchor="end" font-size="53">4</text>
<text transform="translate(810.0,241.1) rotate(-90) scale(0.965,1)" text-anchor="middle" font-size="53">WD <tspan dx="2" dy="1">值</tspan></text>
<text transform="translate(1000.35,474.00) rotate(-45) scale(0.975,1)" text-anchor="end" font-size="53">文献<tspan dx="2" dy="1.2">[8]</tspan></text>
<text transform="translate(1146.25,474.00) rotate(-45) scale(0.975,1)" text-anchor="end" font-size="53">文献<tspan dx="2" dy="1.2">[9]</tspan></text>
<text transform="translate(1292.15,474.00) rotate(-45) scale(0.975,1)" text-anchor="end" font-size="53">文献<tspan dx="2" dy="1.2">[10]</tspan></text>
<text transform="translate(1436.65,475.40) rotate(-45) scale(0.975,1)" text-anchor="end" font-size="53">本文方法</text>
<text transform="translate(1186.50,674.50) scale(0.975,1)" text-anchor="middle" font-size="53">(b) 脾脏</text>
</g>
<g id="panel-c">
<line x1="132.5" x2="716.5" y1="784.5" y2="784.5" stroke="#d0d0d0" stroke-width="3.0"/>
<line x1="132.5" x2="716.5" y1="870.5" y2="870.5" stroke="#d0d0d0" stroke-width="3.0"/>
<line x1="132.5" x2="716.5" y1="956.5" y2="956.5" stroke="#d0d0d0" stroke-width="3.0"/>
<line x1="132.5" x2="716.5" y1="1042.5" y2="1042.5" stroke="#d0d0d0" stroke-width="3.0"/>
<line x1="132.5" x2="716.5" y1="1127.5" y2="1127.5" stroke="#d0d0d0" stroke-width="3.0"/>
<path d="M191.41,1133.31 L190.32,1131.61 L189.22,1129.91 L188.09,1128.21 L186.95,1126.5 L185.8,1124.8 L184.65,1123.1 L183.51,1121.4 L182.38,1119.69 L181.27,1117.99 L180.18,1116.29 L179.13,1114.58 L178.11,1112.88 L177.14,1111.18 L176.22,1109.48 L175.35,1107.77 L174.55,1106.07 L173.81,1104.37 L173.13,1102.67 L172.53,1100.96 L172,1099.26 L171.54,1097.56 L171.16,1095.86 L170.85,1094.15 L170.61,1092.45 L170.45,1090.75 L170.35,1089.05 L170.33,1087.34 L170.36,1085.64 L170.46,1083.94 L170.61,1082.23 L170.81,1080.53 L171.06,1078.83 L171.35,1077.13 L171.68,1075.42 L172.05,1073.72 L172.44,1072.02 L172.86,1070.32 L173.31,1068.61 L173.78,1066.91 L174.27,1065.21 L174.77,1063.51 L175.29,1061.8 L175.82,1060.1 L176.37,1058.4 L176.93,1056.7 L177.5,1054.99 L178.08,1053.29 L178.68,1051.59 L179.3,1049.88 L179.93,1048.18 L180.57,1046.48 L181.23,1044.78 L181.91,1043.07 L182.61,1041.36 L183.32,1039.64 L184.05,1037.91 L184.8,1036.19 L185.56,1034.47 L186.34,1032.74 L187.13,1031.02 L187.93,1029.3 L188.74,1027.58 L189.55,1025.85 L190.37,1024.13 L191.19,1022.41 L192.01,1020.69 L192.82,1018.96 L193.62,1017.24 L194.41,1015.52 L195.18,1013.8 L195.94,1012.07 L196.68,1010.35 L197.39,1008.63 L198.08,1006.9 L198.74,1005.18 L199.37,1003.46 L199.98,1001.74 L200.55,1000.01 L201.09,998.29 L201.59,996.57 L202.07,994.85 L202.51,993.12 L202.92,991.4 L203.3,989.68 L203.65,987.96 L203.99,986.23 L204.31,984.51 L204.62,982.79 L204.92,981.06 L205.22,979.34 L205.51,977.62 L205.77,975.9 L206.02,974.17 L206.24,972.45 L206.42,970.73 L206.5,969.01 L206.5,967.28 L206.5,965.56 L206.5,963.84 L206.5,962.12 L206.5,960.39 L206.5,958.67 L206.5,956.95 L206.5,955.22 L206.5,953.5 L206.5,951.78 L206.5,950.06 L206.5,948.33 L206.5,946.61 L206.5,944.89 L206.5,943.17 L206.35,941.44 L206.15,939.72 L205.92,938 L205.67,936.28 L205.39,934.55 L205.11,932.83 L204.81,931.11 L204.5,929.38 L204.2,927.66 L203.88,925.94 L203.55,924.22 L203.19,922.49 L202.81,920.77 L202.41,919.05 L201.97,917.33 L201.51,915.6 L201.02,913.88 L200.5,912.16 L199.96,910.44 L199.4,908.71 L198.82,906.99 L198.21,905.27 L197.6,903.54 L196.97,901.82 L196.33,900.1 L195.69,898.38 L195.06,896.65 L194.42,894.93 L193.8,893.21 L193.2,891.49 L192.62,889.76 L192.06,888.04 L191.54,886.32 L191.05,884.6 L190.6,882.87 L190.2,881.15 L189.85,879.43 L189.55,877.7 L189.3,875.98 L189.11,874.26 L188.98,872.54 L188.91,870.81 L188.89,869.09 L188.93,867.37 L189.03,865.65 L189.18,863.92 L189.38,862.2 L189.63,860.48 L189.91,858.76 L190.24,857.03 L190.59,855.31 L190.97,853.59 L191.36,851.86 L191.77,850.14 L192.18,848.42 L192.59,846.7 L192.99,844.97 L193.38,843.25 L193.74,841.53 L194.08,839.81 L194.39,838.08 L194.66,836.36 L194.89,834.64 L195.07,832.92 L195.2,831.19 L195.29,829.47 L195.32,827.75 L195.3,826.02 L195.23,824.3 L195.11,822.58 L194.94,820.86 L194.73,819.13 L194.47,817.41 L194.17,815.69 L193.84,813.97 L193.49,812.24 L193.11,810.52 L192.71,808.8 L192.3,807.08 L191.89,805.35 L191.48,803.63 L191.08,801.91 L190.7,800.18 L190.33,798.46 L190,796.74 L189.71,795.02 L189.45,793.29 L189.23,791.57 L189.07,789.85 L188.96,788.13 L188.9,786.4 L188.9,784.68 L188.95,782.96 L189.07,781.24 L189.24,779.51 L189.47,777.79 L189.76,776.07 L190.1,774.34 L190.48,772.62 L190.92,770.9 L191.39,769.18 L191.91,767.45 L192.46,765.73 L193.03,764.01 L193.63,762.29 L194.24,760.56 L194.87,758.84 L195.51,757.12 L217.49,757.12 L218.13,758.84 L218.76,760.56 L219.37,762.29 L219.97,764.01 L220.54,765.73 L221.09,767.45 L221.61,769.18 L222.08,770.9 L222.52,772.62 L222.9,774.34 L223.24,776.07 L223.53,777.79 L223.76,779.51 L223.93,781.24 L224.05,782.96 L224.1,784.68 L224.1,786.4 L224.04,788.13 L223.93,789.85 L223.77,791.57 L223.55,793.29 L223.29,795.02 L223,796.74 L222.67,798.46 L222.3,800.18 L221.92,801.91 L221.52,803.63 L221.11,805.35 L220.7,807.08 L220.29,808.8 L219.89,810.52 L219.51,812.24 L219.16,813.97 L218.83,815.69 L218.53,817.41 L218.27,819.13 L218.06,820.86 L217.89,822.58 L217.77,824.3 L217.7,826.02 L217.68,827.75 L217.71,829.47 L217.8,831.19 L217.93,832.92 L218.11,834.64 L218.34,836.36 L218.61,838.08 L218.92,839.81 L219.26,841.53 L219.62,843.25 L220.01,844.97 L220.41,846.7 L220.82,848.42 L221.23,850.14 L221.64,851.86 L222.03,853.59 L222.41,855.31 L222.76,857.03 L223.09,858.76 L223.37,860.48 L223.62,862.2 L223.82,863.92 L223.97,865.65 L224.07,867.37 L224.11,869.09 L224.09,870.81 L224.02,872.54 L223.89,874.26 L223.7,875.98 L223.45,877.7 L223.15,879.43 L222.8,881.15 L222.4,882.87 L221.95,884.6 L221.46,886.32 L220.94,888.04 L220.38,889.76 L219.8,891.49 L219.2,893.21 L218.58,894.93 L217.94,896.65 L217.31,898.38 L216.67,900.1 L216.03,901.82 L215.4,903.54 L214.79,905.27 L214.18,906.99 L213.6,908.71 L213.04,910.44 L212.5,912.16 L211.98,913.88 L211.49,915.6 L211.03,917.33 L210.59,919.05 L210.19,920.77 L209.81,922.49 L209.45,924.22 L209.12,925.94 L208.8,927.66 L208.5,929.38 L208.19,931.11 L207.89,932.83 L207.61,934.55 L207.33,936.28 L207.08,938 L206.85,939.72 L206.65,941.44 L206.5,943.17 L206.5,944.89 L206.5,946.61 L206.5,948.33 L206.5,950.06 L206.5,951.78 L206.5,953.5 L206.5,955.22 L206.5,956.95 L206.5,958.67 L206.5,960.39 L206.5,962.12 L206.5,963.84 L206.5,965.56 L206.5,967.28 L206.5,969.01 L206.58,970.73 L206.76,972.45 L206.98,974.17 L207.23,975.9 L207.49,977.62 L207.78,979.34 L208.08,981.06 L208.38,982.79 L208.69,984.51 L209.01,986.23 L209.35,987.96 L209.7,989.68 L210.08,991.4 L210.49,993.12 L210.93,994.85 L211.41,996.57 L211.91,998.29 L212.45,1000.01 L213.02,1001.74 L213.63,1003.46 L214.26,1005.18 L214.92,1006.9 L215.61,1008.63 L216.32,1010.35 L217.06,1012.07 L217.82,1013.8 L218.59,1015.52 L219.38,1017.24 L220.18,1018.96 L220.99,1020.69 L221.81,1022.41 L222.63,1024.13 L223.45,1025.85 L224.26,1027.58 L225.07,1029.3 L225.87,1031.02 L226.66,1032.74 L227.44,1034.47 L228.2,1036.19 L228.95,1037.91 L229.68,1039.64 L230.39,1041.36 L231.09,1043.07 L231.77,1044.78 L232.43,1046.48 L233.07,1048.18 L233.7,1049.88 L234.32,1051.59 L234.92,1053.29 L235.5,1054.99 L236.07,1056.7 L236.63,1058.4 L237.18,1060.1 L237.71,1061.8 L238.23,1063.51 L238.73,1065.21 L239.22,1066.91 L239.69,1068.61 L240.14,1070.32 L240.56,1072.02 L240.95,1073.72 L241.32,1075.42 L241.65,1077.13 L241.94,1078.83 L242.19,1080.53 L242.39,1082.23 L242.54,1083.94 L242.64,1085.64 L242.67,1087.34 L242.65,1089.05 L242.55,1090.75 L242.39,1092.45 L242.15,1094.15 L241.84,1095.86 L241.46,1097.56 L241,1099.26 L240.47,1100.96 L239.87,1102.67 L239.19,1104.37 L238.45,1106.07 L237.65,1107.77 L236.78,1109.48 L235.86,1111.18 L234.89,1112.88 L233.87,1114.58 L232.82,1116.29 L231.73,1117.99 L230.62,1119.69 L229.49,1121.4 L228.35,1123.1 L227.2,1124.8 L226.05,1126.5 L224.91,1128.21 L223.78,1129.91 L222.68,1131.61 L221.59,1133.31Z" fill="#8ac0b0" stroke="#000" stroke-opacity="0.9" stroke-width="1" stroke-linejoin="round"/>
<line x1="206.5" x2="206.5" y1="784.5" y2="870.5" stroke="#000" stroke-opacity="0.88" stroke-width="1.1"/>
<line x1="206.5" x2="206.5" y1="1085" y2="1106.25" stroke="#000" stroke-opacity="0.88" stroke-width="1.1"/>
<line x1="206.5" x2="206.5" y1="870.5" y2="1085" stroke="#000" stroke-opacity="0.88" stroke-width="3"/>
<circle cx="206.5" cy="1042.5" r="1.25" fill="#fff"/>
<path d="M339.96,1152.91 L339.17,1151.32 L338.38,1149.73 L337.58,1148.14 L336.79,1146.55 L335.99,1144.96 L335.21,1143.37 L334.44,1141.78 L333.69,1140.19 L332.95,1138.6 L332.24,1137.01 L331.55,1135.42 L330.9,1133.83 L330.27,1132.24 L329.67,1130.65 L329.11,1129.06 L328.58,1127.47 L328.08,1125.87 L327.62,1124.28 L327.19,1122.69 L326.8,1121.1 L326.43,1119.51 L326.1,1117.92 L325.8,1116.33 L325.53,1114.74 L325.28,1113.15 L325.05,1111.56 L324.85,1109.97 L324.67,1108.38 L324.51,1106.79 L324.36,1105.2 L324.23,1103.61 L324.12,1102.02 L324.02,1100.43 L323.93,1098.84 L323.85,1097.25 L323.78,1095.65 L323.73,1094.06 L323.68,1092.47 L323.64,1090.88 L323.61,1089.29 L323.6,1087.7 L323.59,1086.11 L323.58,1084.52 L323.59,1082.93 L323.61,1081.34 L323.63,1079.75 L323.66,1078.16 L323.71,1076.57 L323.76,1074.98 L323.82,1073.39 L323.9,1071.8 L323.98,1070.21 L324.08,1068.62 L324.19,1067.02 L324.31,1065.43 L324.45,1063.84 L324.6,1062.25 L324.78,1060.66 L324.97,1059.07 L325.18,1057.48 L325.42,1055.89 L325.69,1054.3 L325.98,1052.71 L326.3,1051.12 L326.65,1049.53 L327.03,1047.94 L327.44,1046.35 L327.89,1044.76 L328.38,1043.17 L328.89,1041.57 L329.44,1039.96 L330.03,1038.35 L330.64,1036.74 L331.29,1035.13 L331.96,1033.52 L332.67,1031.91 L333.39,1030.3 L334.14,1028.69 L334.9,1027.08 L335.68,1025.47 L336.47,1023.86 L337.27,1022.25 L338.06,1020.65 L338.86,1019.04 L339.65,1017.43 L340.43,1015.82 L341.2,1014.21 L341.95,1012.6 L342.68,1010.99 L343.39,1009.38 L344.07,1007.77 L344.73,1006.16 L345.36,1004.55 L345.96,1002.94 L346.52,1001.33 L347.06,999.72 L347.56,998.12 L348.03,996.51 L348.47,994.9 L348.87,993.29 L349.25,991.68 L349.6,990.07 L349.93,988.46 L350.25,986.85 L350.56,985.24 L350.87,983.63 L351.17,982.02 L351.46,980.41 L351.72,978.8 L351.97,977.2 L352.18,975.59 L352.35,973.98 L352.35,972.37 L352.35,970.76 L352.35,969.15 L352.35,967.54 L352.35,965.93 L352.35,964.32 L352.35,962.71 L352.35,961.1 L352.35,959.49 L352.35,957.88 L352.35,956.28 L352.35,954.67 L352.35,953.06 L352.35,951.45 L352.35,949.84 L352.35,948.23 L352.35,946.62 L352.35,945.01 L352.35,943.4 L352.35,941.79 L352.35,940.18 L352.32,938.57 L352.13,936.96 L351.9,935.35 L351.65,933.75 L351.38,932.14 L351.09,930.53 L350.78,928.92 L350.47,927.31 L350.16,925.7 L349.84,924.09 L349.5,922.48 L349.15,920.87 L348.76,919.26 L348.35,917.65 L347.9,916.04 L347.42,914.43 L346.91,912.83 L346.37,911.22 L345.79,909.61 L345.19,908 L344.55,906.39 L343.89,904.78 L343.19,903.17 L342.48,901.56 L341.74,899.95 L340.98,898.34 L340.21,896.73 L339.43,895.12 L338.64,893.51 L337.85,891.9 L337.05,890.3 L336.26,888.69 L335.48,887.08 L334.7,885.47 L333.95,883.86 L333.21,882.25 L332.5,880.64 L331.81,879.03 L331.15,877.42 L330.52,875.81 L329.93,874.2 L329.37,872.59 L328.84,870.98 L328.36,869.38 L327.91,867.77 L327.5,866.16 L327.13,864.55 L326.8,862.94 L326.51,861.33 L326.25,859.72 L326.04,858.11 L325.85,856.5 L325.71,854.89 L325.6,853.28 L325.52,851.67 L325.48,850.06 L325.48,848.46 L325.51,846.85 L325.57,845.24 L325.67,843.63 L325.8,842.02 L325.97,840.41 L326.18,838.8 L326.42,837.19 L326.7,835.58 L327.02,833.97 L327.38,832.36 L327.78,830.75 L328.21,829.14 L328.68,827.53 L329.19,825.93 L329.74,824.32 L330.33,822.71 L330.94,821.1 L331.59,819.49 L332.27,817.88 L332.98,816.27 L333.71,814.66 L334.46,813.05 L335.22,811.44 L336,809.83 L336.79,808.22 L337.59,806.61 L338.38,805.01 L339.18,803.4 L339.96,801.79 L364.74,801.79 L365.52,803.4 L366.32,805.01 L367.11,806.61 L367.91,808.22 L368.7,809.83 L369.48,811.44 L370.24,813.05 L370.99,814.66 L371.72,816.27 L372.43,817.88 L373.11,819.49 L373.76,821.1 L374.37,822.71 L374.96,824.32 L375.51,825.93 L376.02,827.53 L376.49,829.14 L376.92,830.75 L377.32,832.36 L377.68,833.97 L378,835.58 L378.28,837.19 L378.52,838.8 L378.73,840.41 L378.9,842.02 L379.03,843.63 L379.13,845.24 L379.19,846.85 L379.22,848.46 L379.22,850.06 L379.18,851.67 L379.1,853.28 L378.99,854.89 L378.85,856.5 L378.66,858.11 L378.45,859.72 L378.19,861.33 L377.9,862.94 L377.57,864.55 L377.2,866.16 L376.79,867.77 L376.34,869.38 L375.86,870.98 L375.33,872.59 L374.77,874.2 L374.18,875.81 L373.55,877.42 L372.89,879.03 L372.2,880.64 L371.49,882.25 L370.75,883.86 L370,885.47 L369.22,887.08 L368.44,888.69 L367.65,890.3 L366.85,891.9 L366.06,893.51 L365.27,895.12 L364.49,896.73 L363.72,898.34 L362.96,899.95 L362.22,901.56 L361.51,903.17 L360.81,904.78 L360.15,906.39 L359.51,908 L358.91,909.61 L358.33,911.22 L357.79,912.83 L357.28,914.43 L356.8,916.04 L356.35,917.65 L355.94,919.26 L355.55,920.87 L355.2,922.48 L354.86,924.09 L354.54,925.7 L354.23,927.31 L353.92,928.92 L353.61,930.53 L353.32,932.14 L353.05,933.75 L352.8,935.35 L352.57,936.96 L352.38,938.57 L352.35,940.18 L352.35,941.79 L352.35,943.4 L352.35,945.01 L352.35,946.62 L352.35,948.23 L352.35,949.84 L352.35,951.45 L352.35,953.06 L352.35,954.67 L352.35,956.28 L352.35,957.88 L352.35,959.49 L352.35,961.1 L352.35,962.71 L352.35,964.32 L352.35,965.93 L352.35,967.54 L352.35,969.15 L352.35,970.76 L352.35,972.37 L352.35,973.98 L352.52,975.59 L352.73,977.2 L352.98,978.8 L353.24,980.41 L353.53,982.02 L353.83,983.63 L354.14,985.24 L354.45,986.85 L354.77,988.46 L355.1,990.07 L355.45,991.68 L355.83,993.29 L356.23,994.9 L356.67,996.51 L357.14,998.12 L357.64,999.72 L358.18,1001.33 L358.74,1002.94 L359.34,1004.55 L359.97,1006.16 L360.63,1007.77 L361.31,1009.38 L362.02,1010.99 L362.75,1012.6 L363.5,1014.21 L364.27,1015.82 L365.05,1017.43 L365.84,1019.04 L366.64,1020.65 L367.43,1022.25 L368.23,1023.86 L369.02,1025.47 L369.8,1027.08 L370.56,1028.69 L371.31,1030.3 L372.03,1031.91 L372.74,1033.52 L373.41,1035.13 L374.06,1036.74 L374.67,1038.35 L375.26,1039.96 L375.81,1041.57 L376.32,1043.17 L376.81,1044.76 L377.26,1046.35 L377.67,1047.94 L378.05,1049.53 L378.4,1051.12 L378.72,1052.71 L379.01,1054.3 L379.28,1055.89 L379.52,1057.48 L379.73,1059.07 L379.92,1060.66 L380.1,1062.25 L380.25,1063.84 L380.39,1065.43 L380.51,1067.02 L380.62,1068.62 L380.72,1070.21 L380.8,1071.8 L380.88,1073.39 L380.94,1074.98 L380.99,1076.57 L381.04,1078.16 L381.07,1079.75 L381.09,1081.34 L381.11,1082.93 L381.12,1084.52 L381.11,1086.11 L381.1,1087.7 L381.09,1089.29 L381.06,1090.88 L381.02,1092.47 L380.97,1094.06 L380.92,1095.65 L380.85,1097.25 L380.77,1098.84 L380.68,1100.43 L380.58,1102.02 L380.47,1103.61 L380.34,1105.2 L380.19,1106.79 L380.03,1108.38 L379.85,1109.97 L379.65,1111.56 L379.42,1113.15 L379.17,1114.74 L378.9,1116.33 L378.6,1117.92 L378.27,1119.51 L377.9,1121.1 L377.51,1122.69 L377.08,1124.28 L376.62,1125.87 L376.12,1127.47 L375.59,1129.06 L375.03,1130.65 L374.43,1132.24 L373.8,1133.83 L373.15,1135.42 L372.46,1137.01 L371.75,1138.6 L371.01,1140.19 L370.26,1141.78 L369.49,1143.37 L368.71,1144.96 L367.91,1146.55 L367.12,1148.14 L366.32,1149.73 L365.53,1151.32 L364.74,1152.91Z" fill="#e8eaa6" stroke="#000" stroke-opacity="0.9" stroke-width="1" stroke-linejoin="round"/>
<line x1="352.35" x2="352.35" y1="827.5" y2="870.5" stroke="#000" stroke-opacity="0.88" stroke-width="1.1"/>
<line x1="352.35" x2="352.35" y1="1085" y2="1127.5" stroke="#000" stroke-opacity="0.88" stroke-width="1.1"/>
<line x1="352.35" x2="352.35" y1="870.5" y2="1085" stroke="#000" stroke-opacity="0.88" stroke-width="3"/>
<circle cx="352.35" cy="1042.5" r="1.25" fill="#fff"/>
<path d="M485.33,1151.71 L484.54,1150.22 L483.75,1148.74 L482.95,1147.26 L482.16,1145.78 L481.37,1144.29 L480.6,1142.81 L479.83,1141.33 L479.09,1139.85 L478.37,1138.36 L477.67,1136.88 L477,1135.4 L476.36,1133.92 L475.75,1132.43 L475.17,1130.95 L474.63,1129.47 L474.12,1127.99 L473.65,1126.5 L473.21,1125.02 L472.8,1123.54 L472.43,1122.06 L472.09,1120.57 L471.79,1119.09 L471.51,1117.61 L471.25,1116.13 L471.02,1114.64 L470.82,1113.16 L470.63,1111.68 L470.47,1110.2 L470.32,1108.71 L470.18,1107.23 L470.06,1105.75 L469.96,1104.27 L469.86,1102.78 L469.77,1101.3 L469.69,1099.82 L469.62,1098.34 L469.56,1096.85 L469.5,1095.37 L469.46,1093.89 L469.42,1092.41 L469.38,1090.92 L469.36,1089.44 L469.34,1087.96 L469.33,1086.48 L469.32,1084.99 L469.33,1083.51 L469.34,1082.03 L469.36,1080.55 L469.38,1079.06 L469.42,1077.58 L469.46,1076.1 L469.5,1074.62 L469.56,1073.14 L469.62,1071.65 L469.69,1070.17 L469.77,1068.69 L469.86,1067.21 L469.96,1065.72 L470.07,1064.24 L470.19,1062.76 L470.32,1061.28 L470.47,1059.79 L470.64,1058.31 L470.82,1056.83 L471.03,1055.35 L471.25,1053.86 L471.51,1052.38 L471.79,1050.9 L472.1,1049.42 L472.44,1047.93 L472.81,1046.45 L473.21,1044.97 L473.65,1043.49 L474.12,1042 L474.63,1040.5 L475.17,1039 L475.75,1037.5 L476.36,1036 L477,1034.5 L477.68,1033 L478.37,1031.5 L479.1,1030 L479.84,1028.5 L480.6,1027 L481.38,1025.5 L482.16,1024 L482.96,1022.5 L483.75,1021 L484.55,1019.5 L485.33,1018 L486.11,1016.5 L486.88,1015 L487.63,1013.5 L488.37,1012 L489.08,1010.5 L489.76,1009 L490.42,1007.5 L491.05,1006 L491.65,1004.5 L492.22,1003 L492.76,1001.5 L493.27,1000 L493.74,998.5 L494.18,997 L494.59,995.5 L494.98,994 L495.33,992.5 L495.66,991 L495.98,989.5 L496.29,988 L496.6,986.5 L496.9,985 L497.19,983.5 L497.46,982 L497.72,980.5 L497.94,979 L498.14,977.5 L498.2,976 L498.2,974.5 L498.2,973 L498.2,971.5 L498.2,970 L498.2,968.5 L498.2,967 L498.2,965.5 L498.2,964 L498.2,962.5 L498.2,961 L498.2,959.5 L498.2,958 L498.2,956.5 L498.2,955 L498.2,953.5 L498.2,952 L498.2,950.5 L498.2,949 L498.2,947.5 L498.2,946 L498.2,944.5 L498.2,943 L498.2,941.5 L498.2,940 L498.2,938.5 L498.2,937 L498.05,935.5 L497.82,934 L497.57,932.5 L497.3,931 L497,929.5 L496.68,928 L496.36,926.5 L496.04,925 L495.7,923.5 L495.35,922 L494.97,920.5 L494.55,919 L494.1,917.5 L493.61,916 L493.08,914.5 L492.5,913 L491.88,911.5 L491.21,910 L490.5,908.5 L489.74,907 L488.93,905.5 L488.08,904 L487.18,902.5 L486.24,901 L485.25,899.5 L484.23,898 L483.18,896.5 L482.1,895 L480.98,893.51 L479.85,892.01 L478.7,890.51 L477.54,889.01 L476.38,887.51 L475.21,886.01 L474.06,884.51 L472.93,883.01 L471.81,881.51 L470.73,880.01 L469.69,878.51 L468.7,877.01 L467.75,875.51 L466.87,874.01 L466.06,872.51 L465.31,871.01 L464.65,869.51 L464.07,868.01 L463.58,866.51 L463.19,865.01 L462.89,863.51 L462.68,862.01 L462.58,860.51 L462.58,859.01 L462.68,857.51 L462.88,856.01 L463.18,854.51 L463.58,853.01 L464.07,851.51 L464.65,850.01 L465.31,848.51 L466.05,847.01 L466.86,845.51 L467.74,844.01 L468.69,842.51 L469.68,841.01 L470.72,839.51 L471.8,838.01 L472.92,836.51 L474.05,835.01 L475.2,833.51 L476.37,832.01 L477.53,830.51 L478.69,829.01 L479.84,827.51 L480.97,826.01 L482.09,824.51 L514.31,824.51 L515.43,826.01 L516.56,827.51 L517.71,829.01 L518.87,830.51 L520.03,832.01 L521.2,833.51 L522.35,835.01 L523.48,836.51 L524.6,838.01 L525.68,839.51 L526.72,841.01 L527.71,842.51 L528.66,844.01 L529.54,845.51 L530.35,847.01 L531.09,848.51 L531.75,850.01 L532.33,851.51 L532.82,853.01 L533.22,854.51 L533.52,856.01 L533.72,857.51 L533.82,859.01 L533.82,860.51 L533.72,862.01 L533.51,863.51 L533.21,865.01 L532.82,866.51 L532.33,868.01 L531.75,869.51 L531.09,871.01 L530.34,872.51 L529.53,874.01 L528.65,875.51 L527.7,877.01 L526.71,878.51 L525.67,880.01 L524.59,881.51 L523.47,883.01 L522.34,884.51 L521.19,886.01 L520.02,887.51 L518.86,889.01 L517.7,890.51 L516.55,892.01 L515.42,893.51 L514.3,895 L513.22,896.5 L512.17,898 L511.15,899.5 L510.16,901 L509.22,902.5 L508.32,904 L507.47,905.5 L506.66,907 L505.9,908.5 L505.19,910 L504.52,911.5 L503.9,913 L503.32,914.5 L502.79,916 L502.3,917.5 L501.85,919 L501.43,920.5 L501.05,922 L500.7,923.5 L500.36,925 L500.04,926.5 L499.72,928 L499.4,929.5 L499.1,931 L498.83,932.5 L498.58,934 L498.35,935.5 L498.2,937 L498.2,938.5 L498.2,940 L498.2,941.5 L498.2,943 L498.2,944.5 L498.2,946 L498.2,947.5 L498.2,949 L498.2,950.5 L498.2,952 L498.2,953.5 L498.2,955 L498.2,956.5 L498.2,958 L498.2,959.5 L498.2,961 L498.2,962.5 L498.2,964 L498.2,965.5 L498.2,967 L498.2,968.5 L498.2,970 L498.2,971.5 L498.2,973 L498.2,974.5 L498.2,976 L498.26,977.5 L498.46,979 L498.68,980.5 L498.94,982 L499.21,983.5 L499.5,985 L499.8,986.5 L500.11,988 L500.42,989.5 L500.74,991 L501.07,992.5 L501.42,994 L501.81,995.5 L502.22,997 L502.66,998.5 L503.13,1000 L503.64,1001.5 L504.18,1003 L504.75,1004.5 L505.35,1006 L505.98,1007.5 L506.64,1009 L507.32,1010.5 L508.03,1012 L508.77,1013.5 L509.52,1015 L510.29,1016.5 L511.07,1018 L511.85,1019.5 L512.65,1021 L513.44,1022.5 L514.24,1024 L515.02,1025.5 L515.8,1027 L516.56,1028.5 L517.3,1030 L518.03,1031.5 L518.72,1033 L519.4,1034.5 L520.04,1036 L520.65,1037.5 L521.23,1039 L521.77,1040.5 L522.28,1042 L522.75,1043.49 L523.19,1044.97 L523.59,1046.45 L523.96,1047.93 L524.3,1049.42 L524.61,1050.9 L524.89,1052.38 L525.15,1053.86 L525.37,1055.35 L525.58,1056.83 L525.76,1058.31 L525.93,1059.79 L526.08,1061.28 L526.21,1062.76 L526.33,1064.24 L526.44,1065.72 L526.54,1067.21 L526.63,1068.69 L526.71,1070.17 L526.78,1071.65 L526.84,1073.14 L526.9,1074.62 L526.94,1076.1 L526.98,1077.58 L527.02,1079.06 L527.04,1080.55 L527.06,1082.03 L527.07,1083.51 L527.08,1084.99 L527.07,1086.48 L527.06,1087.96 L527.04,1089.44 L527.02,1090.92 L526.98,1092.41 L526.94,1093.89 L526.9,1095.37 L526.84,1096.85 L526.78,1098.34 L526.71,1099.82 L526.63,1101.3 L526.54,1102.78 L526.44,1104.27 L526.34,1105.75 L526.22,1107.23 L526.08,1108.71 L525.93,1110.2 L525.77,1111.68 L525.58,1113.16 L525.38,1114.64 L525.15,1116.13 L524.89,1117.61 L524.61,1119.09 L524.31,1120.57 L523.97,1122.06 L523.6,1123.54 L523.19,1125.02 L522.75,1126.5 L522.28,1127.99 L521.77,1129.47 L521.23,1130.95 L520.65,1132.43 L520.04,1133.92 L519.4,1135.4 L518.73,1136.88 L518.03,1138.36 L517.31,1139.85 L516.57,1141.33 L515.8,1142.81 L515.03,1144.29 L514.24,1145.78 L513.45,1147.26 L512.65,1148.74 L511.86,1150.22 L511.07,1151.71Z" fill="#b4b0d0" stroke="#000" stroke-opacity="0.9" stroke-width="1" stroke-linejoin="round"/>
<line x1="498.2" x2="498.2" y1="849" y2="870.5" stroke="#000" stroke-opacity="0.88" stroke-width="1.1"/>
<line x1="498.2" x2="498.2" y1="1085" y2="1127.5" stroke="#000" stroke-opacity="0.88" stroke-width="1.1"/>
<line x1="498.2" x2="498.2" y1="870.5" y2="1085" stroke="#000" stroke-opacity="0.88" stroke-width="3"/>
<circle cx="498.2" cy="1042.5" r="1.25" fill="#fff"/>
<path d="M621.69,1152.42 L620.22,1151.45 L618.73,1150.49 L617.21,1149.52 L615.68,1148.56 L614.14,1147.59 L612.6,1146.63 L611.06,1145.66 L609.54,1144.7 L608.05,1143.73 L606.58,1142.77 L605.15,1141.8 L603.77,1140.84 L602.44,1139.87 L601.18,1138.91 L599.98,1137.94 L598.87,1136.98 L597.84,1136.01 L596.91,1135.05 L596.07,1134.08 L595.33,1133.12 L594.7,1132.15 L594.19,1131.19 L593.79,1130.22 L593.51,1129.26 L593.35,1128.29 L593.31,1127.33 L593.39,1126.36 L593.6,1125.4 L593.92,1124.43 L594.36,1123.47 L594.92,1122.5 L595.58,1121.54 L596.36,1120.57 L597.23,1119.61 L598.2,1118.64 L599.26,1117.68 L600.4,1116.71 L601.62,1115.75 L602.91,1114.78 L604.25,1113.82 L605.65,1112.85 L607.1,1111.89 L608.58,1110.92 L610.09,1109.96 L611.61,1108.99 L613.15,1108.03 L614.69,1107.06 L616.23,1106.1 L617.76,1105.13 L619.27,1104.17 L620.75,1103.2 L622.2,1102.24 L623.62,1101.27 L625,1100.31 L626.34,1099.34 L627.62,1098.38 L628.86,1097.41 L630.04,1096.45 L631.16,1095.48 L632.23,1094.52 L633.24,1093.55 L634.2,1092.59 L635.09,1091.62 L635.93,1090.66 L636.71,1089.69 L637.43,1088.73 L638.1,1087.76 L638.72,1086.8 L639.28,1085.83 L639.8,1084.87 L640.28,1083.9 L640.71,1082.94 L641.11,1081.97 L641.47,1081.01 L641.82,1080.04 L642.15,1079.08 L642.47,1078.11 L642.79,1077.15 L643.1,1076.18 L643.38,1075.22 L643.64,1074.25 L643.86,1073.29 L644.05,1072.32 L644.05,1071.36 L644.05,1070.39 L644.05,1069.43 L644.05,1068.46 L644.05,1067.5 L644.05,1066.53 L644.05,1065.57 L644.05,1064.6 L644.05,1063.64 L644.05,1062.67 L644.05,1061.71 L644.05,1060.74 L644.05,1059.78 L644.05,1058.81 L644.05,1057.85 L644.05,1056.88 L644.05,1055.92 L644.05,1054.95 L644.05,1053.99 L644.05,1053.02 L644.05,1052.06 L644.05,1051.09 L644.05,1050.13 L644.05,1049.16 L644.05,1048.2 L644.05,1047.23 L644.03,1046.27 L643.83,1045.3 L643.6,1044.34 L643.35,1043.37 L643.07,1042.41 L642.78,1041.43 L642.47,1040.45 L642.15,1039.48 L641.83,1038.5 L641.5,1037.52 L641.15,1036.55 L640.78,1035.57 L640.37,1034.6 L639.93,1033.62 L639.45,1032.64 L638.93,1031.67 L638.37,1030.69 L637.77,1029.71 L637.13,1028.74 L636.44,1027.76 L635.71,1026.78 L634.94,1025.81 L634.13,1024.83 L633.29,1023.86 L632.4,1022.88 L631.48,1021.9 L630.53,1020.93 L629.55,1019.95 L628.54,1018.97 L627.52,1018 L626.48,1017.02 L625.42,1016.04 L624.36,1015.07 L623.3,1014.09 L622.24,1013.12 L621.19,1012.14 L620.15,1011.16 L619.13,1010.19 L618.14,1009.21 L617.17,1008.23 L616.23,1007.26 L615.32,1006.28 L614.45,1005.3 L613.61,1004.33 L612.82,1003.35 L612.06,1002.38 L611.35,1001.4 L610.67,1000.42 L610.02,999.45 L609.41,998.47 L608.83,997.49 L608.27,996.52 L607.73,995.54 L607.2,994.57 L606.68,993.59 L606.17,992.61 L605.65,991.64 L605.13,990.66 L604.58,989.68 L604.02,988.71 L603.44,987.73 L602.82,986.75 L602.18,985.78 L601.49,984.8 L600.77,983.83 L600.02,982.85 L599.22,981.87 L598.4,980.9 L597.54,979.92 L596.66,978.94 L595.75,977.97 L594.83,976.99 L593.9,976.01 L592.97,975.04 L592.06,974.06 L591.16,973.09 L590.3,972.11 L589.47,971.13 L588.71,970.16 L588,969.18 L587.37,968.2 L586.83,967.23 L586.39,966.25 L586.04,965.27 L585.82,964.3 L585.71,963.32 L585.73,962.35 L585.88,961.37 L586.17,960.39 L586.59,959.42 L587.15,958.44 L587.85,957.46 L588.68,956.49 L589.64,955.51 L590.72,954.53 L591.93,953.56 L593.25,952.58 L594.67,951.61 L596.18,950.63 L597.78,949.65 L599.45,948.68 L601.19,947.7 L602.97,946.72 L604.8,945.75 L606.65,944.77 L608.52,943.79 L610.39,942.82 L612.26,941.84 L614.11,940.87 L615.94,939.89 L672.16,939.89 L673.99,940.87 L675.84,941.84 L677.71,942.82 L679.58,943.79 L681.45,944.77 L683.3,945.75 L685.13,946.72 L686.91,947.7 L688.65,948.68 L690.32,949.65 L691.92,950.63 L693.43,951.61 L694.85,952.58 L696.17,953.56 L697.38,954.53 L698.46,955.51 L699.42,956.49 L700.25,957.46 L700.95,958.44 L701.51,959.42 L701.93,960.39 L702.22,961.37 L702.37,962.35 L702.39,963.32 L702.28,964.3 L702.06,965.27 L701.71,966.25 L701.27,967.23 L700.73,968.2 L700.1,969.18 L699.39,970.16 L698.63,971.13 L697.8,972.11 L696.94,973.09 L696.04,974.06 L695.13,975.04 L694.2,976.01 L693.27,976.99 L692.35,977.97 L691.44,978.94 L690.56,979.92 L689.7,980.9 L688.88,981.87 L688.08,982.85 L687.33,983.83 L686.61,984.8 L685.92,985.78 L685.28,986.75 L684.66,987.73 L684.08,988.71 L683.52,989.68 L682.97,990.66 L682.45,991.64 L681.93,992.61 L681.42,993.59 L680.9,994.57 L680.37,995.54 L679.83,996.52 L679.27,997.49 L678.69,998.47 L678.08,999.45 L677.43,1000.42 L676.75,1001.4 L676.04,1002.38 L675.28,1003.35 L674.49,1004.33 L673.65,1005.3 L672.78,1006.28 L671.87,1007.26 L670.93,1008.23 L669.96,1009.21 L668.97,1010.19 L667.95,1011.16 L666.91,1012.14 L665.86,1013.12 L664.8,1014.09 L663.74,1015.07 L662.68,1016.04 L661.62,1017.02 L660.58,1018 L659.56,1018.97 L658.55,1019.95 L657.57,1020.93 L656.62,1021.9 L655.7,1022.88 L654.81,1023.86 L653.97,1024.83 L653.16,1025.81 L652.39,1026.78 L651.66,1027.76 L650.97,1028.74 L650.33,1029.71 L649.73,1030.69 L649.17,1031.67 L648.65,1032.64 L648.17,1033.62 L647.73,1034.6 L647.32,1035.57 L646.95,1036.55 L646.6,1037.52 L646.27,1038.5 L645.95,1039.48 L645.63,1040.45 L645.32,1041.43 L645.03,1042.41 L644.75,1043.37 L644.5,1044.34 L644.27,1045.3 L644.07,1046.27 L644.05,1047.23 L644.05,1048.2 L644.05,1049.16 L644.05,1050.13 L644.05,1051.09 L644.05,1052.06 L644.05,1053.02 L644.05,1053.99 L644.05,1054.95 L644.05,1055.92 L644.05,1056.88 L644.05,1057.85 L644.05,1058.81 L644.05,1059.78 L644.05,1060.74 L644.05,1061.71 L644.05,1062.67 L644.05,1063.64 L644.05,1064.6 L644.05,1065.57 L644.05,1066.53 L644.05,1067.5 L644.05,1068.46 L644.05,1069.43 L644.05,1070.39 L644.05,1071.36 L644.05,1072.32 L644.24,1073.29 L644.46,1074.25 L644.72,1075.22 L645,1076.18 L645.31,1077.15 L645.63,1078.11 L645.95,1079.08 L646.28,1080.04 L646.63,1081.01 L646.99,1081.97 L647.39,1082.94 L647.82,1083.9 L648.3,1084.87 L648.82,1085.83 L649.38,1086.8 L650,1087.76 L650.67,1088.73 L651.39,1089.69 L652.17,1090.66 L653.01,1091.62 L653.9,1092.59 L654.86,1093.55 L655.87,1094.52 L656.94,1095.48 L658.06,1096.45 L659.24,1097.41 L660.48,1098.38 L661.76,1099.34 L663.1,1100.31 L664.48,1101.27 L665.9,1102.24 L667.35,1103.2 L668.83,1104.17 L670.34,1105.13 L671.87,1106.1 L673.41,1107.06 L674.95,1108.03 L676.49,1108.99 L678.01,1109.96 L679.52,1110.92 L681,1111.89 L682.45,1112.85 L683.85,1113.82 L685.19,1114.78 L686.48,1115.75 L687.7,1116.71 L688.84,1117.68 L689.9,1118.64 L690.87,1119.61 L691.74,1120.57 L692.52,1121.54 L693.18,1122.5 L693.74,1123.47 L694.18,1124.43 L694.5,1125.4 L694.71,1126.36 L694.79,1127.33 L694.75,1128.29 L694.59,1129.26 L694.31,1130.22 L693.91,1131.19 L693.4,1132.15 L692.77,1133.12 L692.03,1134.08 L691.19,1135.05 L690.26,1136.01 L689.23,1136.98 L688.12,1137.94 L686.92,1138.91 L685.66,1139.87 L684.33,1140.84 L682.95,1141.8 L681.52,1142.77 L680.05,1143.73 L678.56,1144.7 L677.04,1145.66 L675.5,1146.63 L673.96,1147.59 L672.42,1148.56 L670.89,1149.52 L669.37,1150.49 L667.88,1151.45 L666.41,1152.42Z" fill="#d6717c" stroke="#000" stroke-opacity="0.9" stroke-width="1" stroke-linejoin="round"/>
<line x1="644.05" x2="644.05" y1="956.5" y2="965.1" stroke="#000" stroke-opacity="0.88" stroke-width="1.1"/>
<line x1="644.05" x2="644.05" y1="1119" y2="1136" stroke="#000" stroke-opacity="0.88" stroke-width="1.1"/>
<line x1="644.05" x2="644.05" y1="965.1" y2="1119" stroke="#000" stroke-opacity="0.88" stroke-width="3"/>
<circle cx="644.05" cy="999.5" r="1.25" fill="#fff"/>
<rect x="132.5" y="735.5" width="584.0" height="439.0" fill="none" stroke="#d0d0d0" stroke-width="3.0"/>
<text transform="translate(114.30,795.30) scale(0.94,1)" text-anchor="end" font-size="53">14</text>
<text transform="translate(114.30,881.30) scale(0.94,1)" text-anchor="end" font-size="53">12</text>
<text transform="translate(114.30,967.60) scale(0.94,1)" text-anchor="end" font-size="53">10</text>
<text transform="translate(114.30,1053.30) scale(0.94,1)" text-anchor="end" font-size="53">8</text>
<text transform="translate(114.30,1138.50) scale(0.94,1)" text-anchor="end" font-size="53">6</text>
<text transform="translate(43.0,975.75) rotate(-90) scale(0.965,1)" text-anchor="middle" font-size="53">WD <tspan dx="2" dy="1">值</tspan></text>
<text transform="translate(247.15,1203.50) rotate(-45) scale(0.975,1)" text-anchor="end" font-size="53">文献<tspan dx="2" dy="1.2">[8]</tspan></text>
<text transform="translate(393.05,1203.50) rotate(-45) scale(0.975,1)" text-anchor="end" font-size="53">文献<tspan dx="2" dy="1.2">[9]</tspan></text>
<text transform="translate(538.95,1203.50) rotate(-45) scale(0.975,1)" text-anchor="end" font-size="53">文献<tspan dx="2" dy="1.2">[10]</tspan></text>
<text transform="translate(683.45,1204.90) rotate(-45) scale(0.975,1)" text-anchor="end" font-size="53">本文方法</text>
<text transform="translate(427.80,1409.00) scale(0.975,1)" text-anchor="middle" font-size="53">(c) 胰腺</text>
</g>
<g id="panel-d">
<line x1="890.4" x2="1475.5" y1="778.5" y2="778.5" stroke="#d0d0d0" stroke-width="3.0"/>
<line x1="890.4" x2="1475.5" y1="868.5" y2="868.5" stroke="#d0d0d0" stroke-width="3.0"/>
<line x1="890.4" x2="1475.5" y1="958.5" y2="958.5" stroke="#d0d0d0" stroke-width="3.0"/>
<line x1="890.4" x2="1475.5" y1="1048.5" y2="1048.5" stroke="#d0d0d0" stroke-width="3.0"/>
<line x1="890.4" x2="1475.5" y1="1138.5" y2="1138.5" stroke="#d0d0d0" stroke-width="3.0"/>
<path d="M950.88,1069.66 L949.99,1068.24 L949.11,1066.81 L948.24,1065.39 L947.38,1063.96 L946.55,1062.53 L945.74,1061.11 L944.97,1059.68 L944.23,1058.25 L943.54,1056.83 L942.9,1055.4 L942.31,1053.98 L941.78,1052.55 L941.29,1051.12 L940.87,1049.7 L940.5,1048.27 L940.18,1046.85 L939.92,1045.42 L939.7,1043.99 L939.53,1042.57 L939.4,1041.14 L939.3,1039.71 L939.24,1038.29 L939.19,1036.86 L939.17,1035.44 L939.16,1034.01 L939.17,1032.58 L939.17,1031.16 L939.18,1029.73 L939.19,1028.31 L939.2,1026.88 L939.2,1025.45 L939.19,1024.03 L939.18,1022.6 L939.18,1021.17 L939.17,1019.75 L939.16,1018.32 L939.17,1016.9 L939.19,1015.47 L939.22,1014.04 L939.28,1012.62 L939.37,1011.19 L939.5,1009.77 L939.66,1008.34 L939.86,1006.91 L940.12,1005.49 L940.42,1004.06 L940.78,1002.63 L941.19,1001.21 L941.66,999.78 L942.18,998.36 L942.76,996.93 L943.39,995.5 L944.07,994.08 L944.79,992.65 L945.56,991.23 L946.36,989.8 L947.18,988.37 L948.04,986.95 L948.91,985.52 L949.79,984.09 L950.67,982.67 L951.55,981.24 L952.43,979.82 L953.29,978.39 L954.13,976.96 L954.94,975.54 L955.73,974.11 L956.49,972.69 L957.21,971.26 L957.9,969.83 L958.55,968.41 L959.15,966.98 L959.72,965.55 L960.24,964.13 L960.73,962.7 L961.17,961.28 L961.58,959.85 L961.96,958.42 L962.31,957 L962.65,955.57 L962.99,954.15 L963.31,952.72 L963.62,951.29 L963.9,949.87 L964.14,948.44 L964.36,947.01 L964.53,945.59 L964.6,944.16 L964.6,942.74 L964.6,941.31 L964.6,939.88 L964.6,938.46 L964.6,937.03 L964.6,935.61 L964.6,934.18 L964.59,932.75 L964.42,931.33 L964.21,929.9 L963.95,928.47 L963.65,927.05 L963.32,925.62 L962.96,924.2 L962.58,922.77 L962.19,921.34 L961.78,919.92 L961.32,918.49 L960.81,917.07 L960.24,915.64 L959.61,914.21 L958.91,912.79 L958.14,911.36 L957.29,909.93 L956.36,908.51 L955.35,907.08 L954.27,905.66 L953.1,904.23 L951.86,902.8 L950.54,901.38 L949.14,899.95 L947.68,898.53 L946.16,897.1 L944.59,895.67 L942.98,894.25 L941.33,892.82 L939.66,891.39 L937.98,889.97 L936.31,888.54 L934.66,887.12 L933.05,885.69 L931.48,884.26 L929.99,882.84 L928.57,881.41 L927.26,879.99 L926.06,878.56 L924.99,877.13 L924.06,875.71 L923.28,874.28 L922.66,872.85 L922.21,871.43 L921.93,870 L921.83,868.58 L921.91,867.14 L922.16,865.7 L922.59,864.26 L923.19,862.82 L923.95,861.37 L924.86,859.93 L925.91,858.49 L927.09,857.05 L928.38,855.61 L929.77,854.17 L931.25,852.73 L932.79,851.29 L934.38,849.85 L936,848.41 L937.64,846.97 L939.28,845.53 L940.9,844.09 L942.5,842.65 L944.06,841.21 L945.57,839.77 L947.01,838.33 L948.37,836.89 L949.66,835.45 L950.85,834.01 L951.96,832.57 L952.96,831.13 L953.85,829.69 L954.65,828.25 L955.33,826.81 L955.91,825.36 L956.38,823.92 L956.74,822.48 L957,821.04 L957.16,819.6 L957.21,818.16 L957.17,816.72 L957.04,815.28 L956.81,813.84 L956.51,812.4 L956.12,810.96 L955.67,809.52 L955.14,808.08 L954.56,806.64 L953.93,805.2 L953.25,803.76 L952.54,802.32 L951.79,800.88 L951.03,799.44 L950.26,798 L949.49,796.56 L948.72,795.12 L947.97,793.68 L947.25,792.24 L946.56,790.79 L945.92,789.35 L945.33,787.91 L944.8,786.47 L944.34,785.03 L943.95,783.59 L943.64,782.15 L943.41,780.71 L943.26,779.27 L943.21,777.83 L943.24,776.39 L943.36,774.95 L943.57,773.51 L943.86,772.07 L944.24,770.63 L944.69,769.19 L945.21,767.75 L945.8,766.31 L946.44,764.87 L947.14,763.43 L947.88,761.99 L948.65,760.55 L949.46,759.11 L950.28,757.67 L951.11,756.22 L978.09,756.22 L978.92,757.67 L979.74,759.11 L980.55,760.55 L981.32,761.99 L982.06,763.43 L982.76,764.87 L983.4,766.31 L983.99,767.75 L984.51,769.19 L984.96,770.63 L985.34,772.07 L985.63,773.51 L985.84,774.95 L985.96,776.39 L985.99,777.83 L985.94,779.27 L985.79,780.71 L985.56,782.15 L985.25,783.59 L984.86,785.03 L984.4,786.47 L983.87,787.91 L983.28,789.35 L982.64,790.79 L981.95,792.24 L981.23,793.68 L980.48,795.12 L979.71,796.56 L978.94,798 L978.17,799.44 L977.41,800.88 L976.66,802.32 L975.95,803.76 L975.27,805.2 L974.64,806.64 L974.06,808.08 L973.53,809.52 L973.08,810.96 L972.69,812.4 L972.39,813.84 L972.16,815.28 L972.03,816.72 L971.99,818.16 L972.04,819.6 L972.2,821.04 L972.46,822.48 L972.82,823.92 L973.29,825.36 L973.87,826.81 L974.55,828.25 L975.35,829.69 L976.24,831.13 L977.24,832.57 L978.35,834.01 L979.54,835.45 L980.83,836.89 L982.19,838.33 L983.63,839.77 L985.14,841.21 L986.7,842.65 L988.3,844.09 L989.92,845.53 L991.56,846.97 L993.2,848.41 L994.82,849.85 L996.41,851.29 L997.95,852.73 L999.43,854.17 L1000.82,855.61 L1002.11,857.05 L1003.29,858.49 L1004.34,859.93 L1005.25,861.37 L1006.01,862.82 L1006.61,864.26 L1007.04,865.7 L1007.29,867.14 L1007.37,868.58 L1007.27,870 L1006.99,871.43 L1006.54,872.85 L1005.92,874.28 L1005.14,875.71 L1004.21,877.13 L1003.14,878.56 L1001.94,879.99 L1000.63,881.41 L999.21,882.84 L997.72,884.26 L996.15,885.69 L994.54,887.12 L992.89,888.54 L991.22,889.97 L989.54,891.39 L987.87,892.82 L986.22,894.25 L984.61,895.67 L983.04,897.1 L981.52,898.53 L980.06,899.95 L978.66,901.38 L977.34,902.8 L976.1,904.23 L974.93,905.66 L973.85,907.08 L972.84,908.51 L971.91,909.93 L971.06,911.36 L970.29,912.79 L969.59,914.21 L968.96,915.64 L968.39,917.07 L967.88,918.49 L967.42,919.92 L967.01,921.34 L966.62,922.77 L966.24,924.2 L965.88,925.62 L965.55,927.05 L965.25,928.47 L964.99,929.9 L964.78,931.33 L964.61,932.75 L964.6,934.18 L964.6,935.61 L964.6,937.03 L964.6,938.46 L964.6,939.88 L964.6,941.31 L964.6,942.74 L964.6,944.16 L964.67,945.59 L964.84,947.01 L965.06,948.44 L965.3,949.87 L965.58,951.29 L965.89,952.72 L966.21,954.15 L966.55,955.57 L966.89,957 L967.24,958.42 L967.62,959.85 L968.03,961.28 L968.47,962.7 L968.96,964.13 L969.48,965.55 L970.05,966.98 L970.65,968.41 L971.3,969.83 L971.99,971.26 L972.71,972.69 L973.47,974.11 L974.26,975.54 L975.07,976.96 L975.91,978.39 L976.77,979.82 L977.65,981.24 L978.53,982.67 L979.41,984.09 L980.29,985.52 L981.16,986.95 L982.02,988.37 L982.84,989.8 L983.64,991.23 L984.41,992.65 L985.13,994.08 L985.81,995.5 L986.44,996.93 L987.02,998.36 L987.54,999.78 L988.01,1001.21 L988.42,1002.63 L988.78,1004.06 L989.08,1005.49 L989.34,1006.91 L989.54,1008.34 L989.7,1009.77 L989.83,1011.19 L989.92,1012.62 L989.98,1014.04 L990.01,1015.47 L990.03,1016.9 L990.04,1018.32 L990.03,1019.75 L990.02,1021.17 L990.02,1022.6 L990.01,1024.03 L990,1025.45 L990,1026.88 L990.01,1028.31 L990.02,1029.73 L990.03,1031.16 L990.03,1032.58 L990.04,1034.01 L990.03,1035.44 L990.01,1036.86 L989.96,1038.29 L989.9,1039.71 L989.8,1041.14 L989.67,1042.57 L989.5,1043.99 L989.28,1045.42 L989.02,1046.85 L988.7,1048.27 L988.33,1049.7 L987.91,1051.12 L987.42,1052.55 L986.89,1053.98 L986.3,1055.4 L985.66,1056.83 L984.97,1058.25 L984.23,1059.68 L983.46,1061.11 L982.65,1062.53 L981.82,1063.96 L980.96,1065.39 L980.09,1066.81 L979.21,1068.24 L978.32,1069.66Z" fill="#8ac0b0" stroke="#000" stroke-opacity="0.9" stroke-width="1" stroke-linejoin="round"/>
<line x1="964.6" x2="964.6" y1="777.6" y2="868.5" stroke="#000" stroke-opacity="0.88" stroke-width="1.1"/>
<line x1="964.6" x2="964.6" y1="1003.5" y2="1048.5" stroke="#000" stroke-opacity="0.88" stroke-width="1.1"/>
<line x1="964.6" x2="964.6" y1="868.5" y2="1003.5" stroke="#000" stroke-opacity="0.88" stroke-width="3"/>
<circle cx="964.6" cy="868.5" r="1.25" fill="#fff"/>
<path d="M1092.26,1064.2 L1091.02,1063.02 L1089.8,1061.85 L1088.61,1060.68 L1087.47,1059.51 L1086.4,1058.34 L1085.4,1057.17 L1084.5,1056 L1083.7,1054.83 L1083.02,1053.66 L1082.46,1052.49 L1082.04,1051.32 L1081.76,1050.15 L1081.63,1048.98 L1081.64,1047.81 L1081.8,1046.63 L1082.11,1045.46 L1082.56,1044.29 L1083.14,1043.12 L1083.84,1041.95 L1084.66,1040.78 L1085.58,1039.61 L1086.59,1038.44 L1087.68,1037.27 L1088.83,1036.1 L1090.02,1034.93 L1091.25,1033.76 L1092.5,1032.59 L1093.75,1031.41 L1094.99,1030.24 L1096.21,1029.07 L1097.4,1027.9 L1098.56,1026.73 L1099.66,1025.56 L1100.71,1024.39 L1101.7,1023.22 L1102.63,1022.05 L1103.49,1020.88 L1104.28,1019.71 L1105.01,1018.54 L1105.66,1017.37 L1106.24,1016.2 L1106.76,1015.02 L1107.21,1013.85 L1107.6,1012.68 L1107.94,1011.51 L1108.23,1010.34 L1108.46,1009.17 L1108.63,1008 L1108.73,1006.83 L1108.76,1005.66 L1108.7,1004.49 L1108.57,1003.32 L1108.36,1002.15 L1108.09,1000.98 L1107.75,999.8 L1107.34,998.63 L1106.86,997.46 L1106.29,996.29 L1105.62,995.12 L1104.85,993.95 L1103.96,992.78 L1102.96,991.61 L1101.84,990.44 L1100.59,989.27 L1099.22,988.1 L1097.71,986.93 L1096.06,985.76 L1094.29,984.59 L1092.38,983.41 L1090.35,982.24 L1088.21,981.07 L1085.96,979.9 L1083.62,978.73 L1081.21,977.56 L1078.74,976.39 L1076.24,975.22 L1073.73,974.05 L1071.24,972.88 L1068.79,971.71 L1066.41,970.54 L1064.13,969.37 L1061.98,968.2 L1059.98,967.02 L1058.16,965.85 L1056.55,964.68 L1055.16,963.51 L1054.02,962.34 L1053.14,961.17 L1052.52,960 L1052.18,958.83 L1052.11,957.66 L1052.31,956.49 L1052.77,955.32 L1053.48,954.15 L1054.42,952.98 L1055.57,951.8 L1056.9,950.63 L1058.39,949.46 L1060,948.29 L1061.71,947.12 L1063.48,945.95 L1065.27,944.78 L1067.07,943.61 L1068.84,942.44 L1070.55,941.27 L1072.17,940.1 L1073.68,938.93 L1075.07,937.76 L1076.33,936.59 L1077.43,935.41 L1078.37,934.24 L1079.16,933.07 L1079.79,931.9 L1080.27,930.73 L1080.62,929.56 L1080.83,928.39 L1080.93,927.22 L1080.93,926.05 L1080.86,924.88 L1080.73,923.71 L1080.57,922.54 L1080.4,921.37 L1080.23,920.2 L1080.09,919.02 L1080,917.85 L1079.97,916.68 L1080.02,915.51 L1080.15,914.34 L1080.39,913.17 L1080.73,912 L1081.18,910.83 L1081.74,909.66 L1082.41,908.49 L1083.18,907.32 L1084.05,906.15 L1085.01,904.98 L1086.05,903.8 L1087.16,902.63 L1088.33,901.46 L1089.54,900.29 L1090.78,899.12 L1092.05,897.95 L1093.31,896.78 L1094.57,895.61 L1095.81,894.44 L1097.02,893.27 L1098.19,892.1 L1099.32,890.93 L1100.39,889.76 L1101.41,888.59 L1102.36,887.41 L1103.24,886.24 L1104.06,885.07 L1104.82,883.9 L1105.5,882.73 L1106.12,881.56 L1106.67,880.39 L1107.16,879.22 L1107.6,878.05 L1107.99,876.88 L1108.34,875.71 L1108.66,874.54 L1108.94,873.37 L1109.17,872.2 L1109.35,871.02 L1109.46,869.85 L1109.51,868.68 L1109.48,867.5 L1109.39,866.32 L1109.24,865.14 L1109.02,863.95 L1108.75,862.77 L1108.45,861.59 L1108.1,860.41 L1107.73,859.23 L1107.31,858.04 L1106.83,856.86 L1106.3,855.68 L1105.7,854.5 L1105.04,853.31 L1104.31,852.13 L1103.51,850.95 L1102.65,849.77 L1101.71,848.58 L1100.72,847.4 L1099.67,846.22 L1098.56,845.04 L1097.41,843.85 L1096.21,842.67 L1094.99,841.49 L1093.75,840.31 L1092.5,839.12 L1091.25,837.94 L1090.02,836.76 L1088.83,835.58 L1087.68,834.39 L1086.59,833.21 L1085.58,832.03 L1084.66,830.85 L1083.84,829.66 L1083.14,828.48 L1082.56,827.3 L1082.11,826.12 L1081.8,824.93 L1081.64,823.75 L1081.63,822.57 L1081.76,821.39 L1082.04,820.2 L1082.46,819.02 L1083.02,817.84 L1083.7,816.66 L1084.5,815.47 L1085.4,814.29 L1086.4,813.11 L1087.47,811.93 L1088.61,810.75 L1089.8,809.56 L1091.02,808.38 L1092.26,807.2 L1128.64,807.2 L1129.88,808.38 L1131.1,809.56 L1132.29,810.75 L1133.43,811.93 L1134.5,813.11 L1135.5,814.29 L1136.4,815.47 L1137.2,816.66 L1137.88,817.84 L1138.44,819.02 L1138.86,820.2 L1139.14,821.39 L1139.27,822.57 L1139.26,823.75 L1139.1,824.93 L1138.79,826.12 L1138.34,827.3 L1137.76,828.48 L1137.06,829.66 L1136.24,830.85 L1135.32,832.03 L1134.31,833.21 L1133.22,834.39 L1132.07,835.58 L1130.88,836.76 L1129.65,837.94 L1128.4,839.12 L1127.15,840.31 L1125.91,841.49 L1124.69,842.67 L1123.49,843.85 L1122.34,845.04 L1121.23,846.22 L1120.18,847.4 L1119.19,848.58 L1118.25,849.77 L1117.39,850.95 L1116.59,852.13 L1115.86,853.31 L1115.2,854.5 L1114.6,855.68 L1114.07,856.86 L1113.59,858.04 L1113.17,859.23 L1112.8,860.41 L1112.45,861.59 L1112.15,862.77 L1111.88,863.95 L1111.66,865.14 L1111.51,866.32 L1111.42,867.5 L1111.39,868.68 L1111.44,869.85 L1111.55,871.02 L1111.73,872.2 L1111.96,873.37 L1112.24,874.54 L1112.56,875.71 L1112.91,876.88 L1113.3,878.05 L1113.74,879.22 L1114.23,880.39 L1114.78,881.56 L1115.4,882.73 L1116.08,883.9 L1116.84,885.07 L1117.66,886.24 L1118.54,887.41 L1119.49,888.59 L1120.51,889.76 L1121.58,890.93 L1122.71,892.1 L1123.88,893.27 L1125.09,894.44 L1126.33,895.61 L1127.59,896.78 L1128.85,897.95 L1130.12,899.12 L1131.36,900.29 L1132.57,901.46 L1133.74,902.63 L1134.85,903.8 L1135.89,904.98 L1136.85,906.15 L1137.72,907.32 L1138.49,908.49 L1139.16,909.66 L1139.72,910.83 L1140.17,912 L1140.51,913.17 L1140.75,914.34 L1140.88,915.51 L1140.93,916.68 L1140.9,917.85 L1140.81,919.02 L1140.67,920.2 L1140.5,921.37 L1140.33,922.54 L1140.17,923.71 L1140.04,924.88 L1139.97,926.05 L1139.97,927.22 L1140.07,928.39 L1140.28,929.56 L1140.63,930.73 L1141.11,931.9 L1141.74,933.07 L1142.53,934.24 L1143.47,935.41 L1144.57,936.59 L1145.83,937.76 L1147.22,938.93 L1148.73,940.1 L1150.35,941.27 L1152.06,942.44 L1153.83,943.61 L1155.63,944.78 L1157.42,945.95 L1159.19,947.12 L1160.9,948.29 L1162.51,949.46 L1164,950.63 L1165.33,951.8 L1166.48,952.98 L1167.42,954.15 L1168.13,955.32 L1168.59,956.49 L1168.79,957.66 L1168.72,958.83 L1168.38,960 L1167.76,961.17 L1166.88,962.34 L1165.74,963.51 L1164.35,964.68 L1162.74,965.85 L1160.92,967.02 L1158.92,968.2 L1156.77,969.37 L1154.49,970.54 L1152.11,971.71 L1149.66,972.88 L1147.17,974.05 L1144.66,975.22 L1142.16,976.39 L1139.69,977.56 L1137.28,978.73 L1134.94,979.9 L1132.69,981.07 L1130.55,982.24 L1128.52,983.41 L1126.61,984.59 L1124.84,985.76 L1123.19,986.93 L1121.68,988.1 L1120.31,989.27 L1119.06,990.44 L1117.94,991.61 L1116.94,992.78 L1116.05,993.95 L1115.28,995.12 L1114.61,996.29 L1114.04,997.46 L1113.56,998.63 L1113.15,999.8 L1112.81,1000.98 L1112.54,1002.15 L1112.33,1003.32 L1112.2,1004.49 L1112.14,1005.66 L1112.17,1006.83 L1112.27,1008 L1112.44,1009.17 L1112.67,1010.34 L1112.96,1011.51 L1113.3,1012.68 L1113.69,1013.85 L1114.14,1015.02 L1114.66,1016.2 L1115.24,1017.37 L1115.89,1018.54 L1116.62,1019.71 L1117.41,1020.88 L1118.27,1022.05 L1119.2,1023.22 L1120.19,1024.39 L1121.24,1025.56 L1122.34,1026.73 L1123.5,1027.9 L1124.69,1029.07 L1125.91,1030.24 L1127.15,1031.41 L1128.4,1032.59 L1129.65,1033.76 L1130.88,1034.93 L1132.07,1036.1 L1133.22,1037.27 L1134.31,1038.44 L1135.32,1039.61 L1136.24,1040.78 L1137.06,1041.95 L1137.76,1043.12 L1138.34,1044.29 L1138.79,1045.46 L1139.1,1046.63 L1139.26,1047.81 L1139.27,1048.98 L1139.14,1050.15 L1138.86,1051.32 L1138.44,1052.49 L1137.88,1053.66 L1137.2,1054.83 L1136.4,1056 L1135.5,1057.17 L1134.5,1058.34 L1133.43,1059.51 L1132.29,1060.68 L1131.1,1061.85 L1129.88,1063.02 L1128.64,1064.2Z" fill="#e8eaa6" stroke="#000" stroke-opacity="0.9" stroke-width="1" stroke-linejoin="round"/>
<line x1="1110.45" x2="1110.45" y1="913.5" y2="958.5" stroke="#000" stroke-opacity="0.88" stroke-width="3"/>
<circle cx="1110.45" cy="958.5" r="1.25" fill="#fff"/>
<path d="M1236.54,1152.96 L1235.34,1152 L1234.16,1151.05 L1233,1150.1 L1231.88,1149.14 L1230.81,1148.19 L1229.79,1147.23 L1228.84,1146.28 L1227.97,1145.33 L1227.19,1144.37 L1226.5,1143.42 L1225.91,1142.46 L1225.42,1141.51 L1225.05,1140.56 L1224.79,1139.6 L1224.65,1138.65 L1224.62,1137.69 L1224.7,1136.74 L1224.9,1135.79 L1225.19,1134.83 L1225.58,1133.88 L1226.05,1132.92 L1226.61,1131.97 L1227.23,1131.02 L1227.9,1130.06 L1228.62,1129.11 L1229.36,1128.15 L1230.12,1127.2 L1230.88,1126.25 L1231.62,1125.29 L1232.34,1124.34 L1233.01,1123.39 L1233.64,1122.43 L1234.2,1121.48 L1234.69,1120.52 L1235.1,1119.57 L1235.42,1118.62 L1235.64,1117.66 L1235.76,1116.71 L1235.79,1115.75 L1235.71,1114.8 L1235.53,1113.85 L1235.26,1112.89 L1234.89,1111.94 L1234.44,1110.98 L1233.91,1110.03 L1233.31,1109.08 L1232.66,1108.12 L1231.95,1107.17 L1231.22,1106.21 L1230.46,1105.26 L1229.69,1104.31 L1228.93,1103.35 L1228.19,1102.4 L1227.48,1101.44 L1226.82,1100.49 L1226.21,1099.54 L1225.67,1098.58 L1225.21,1097.63 L1224.84,1096.67 L1224.55,1095.72 L1224.37,1094.77 L1224.28,1093.81 L1224.3,1092.86 L1224.42,1091.9 L1224.64,1090.95 L1224.96,1090 L1225.36,1089.04 L1225.85,1088.09 L1226.41,1087.13 L1227.04,1086.18 L1227.72,1085.23 L1228.44,1084.27 L1229.19,1083.32 L1229.96,1082.37 L1230.72,1081.41 L1231.47,1080.46 L1232.2,1079.5 L1232.89,1078.55 L1233.53,1077.6 L1234.1,1076.64 L1234.61,1075.69 L1235.03,1074.73 L1235.37,1073.78 L1235.61,1072.83 L1235.75,1071.87 L1235.79,1070.92 L1235.73,1069.96 L1235.57,1069.01 L1235.32,1068.06 L1234.97,1067.1 L1234.53,1066.15 L1234.02,1065.19 L1233.43,1064.24 L1232.79,1063.29 L1232.09,1062.33 L1231.37,1061.38 L1230.62,1060.42 L1229.86,1059.47 L1229.1,1058.52 L1228.37,1057.56 L1227.66,1056.61 L1227.01,1055.65 L1226.41,1054.7 L1225.88,1053.75 L1225.43,1052.79 L1225.08,1051.84 L1224.82,1050.88 L1224.66,1049.93 L1224.62,1048.98 L1224.69,1048.02 L1224.87,1047.07 L1225.16,1046.12 L1225.57,1045.16 L1226.09,1044.21 L1226.72,1043.25 L1227.44,1042.3 L1228.25,1041.35 L1229.15,1040.39 L1230.12,1039.44 L1231.15,1038.48 L1232.23,1037.53 L1233.36,1036.58 L1234.52,1035.62 L1235.7,1034.67 L1236.89,1033.71 L1238.08,1032.76 L1239.25,1031.81 L1240.41,1030.85 L1241.54,1029.9 L1242.63,1028.94 L1243.67,1027.99 L1244.67,1027.04 L1245.61,1026.08 L1246.48,1025.13 L1247.29,1024.17 L1248.03,1023.22 L1248.7,1022.27 L1249.29,1021.31 L1249.8,1020.36 L1250.24,1019.4 L1250.59,1018.45 L1250.86,1017.5 L1251.05,1016.54 L1251.16,1015.59 L1251.19,1014.63 L1251.13,1013.68 L1250.99,1012.73 L1250.76,1011.77 L1250.45,1010.82 L1250.05,1009.87 L1249.58,1008.91 L1249.02,1007.96 L1248.37,1007 L1247.65,1006.05 L1246.84,1005.1 L1245.96,1004.14 L1245,1003.19 L1243.97,1002.23 L1242.88,1001.28 L1241.71,1000.33 L1240.49,999.37 L1239.21,998.42 L1237.88,997.46 L1236.51,996.51 L1235.1,995.56 L1233.66,994.6 L1232.21,993.65 L1230.74,992.69 L1229.26,991.74 L1227.79,990.79 L1226.33,989.83 L1224.9,988.88 L1223.49,987.92 L1222.11,986.97 L1220.79,986.02 L1219.51,985.06 L1218.28,984.11 L1217.12,983.15 L1216.02,982.2 L1215,981.25 L1214.05,980.29 L1213.17,979.34 L1212.38,978.38 L1211.66,977.43 L1211.03,976.48 L1210.48,975.52 L1210.01,974.57 L1209.63,973.61 L1209.33,972.66 L1209.12,971.71 L1208.99,970.75 L1208.94,969.8 L1208.98,968.85 L1209.1,967.89 L1209.3,966.94 L1209.59,965.98 L1209.97,965.03 L1210.43,964.08 L1210.97,963.12 L1211.59,962.17 L1212.3,961.21 L1213.09,960.26 L1213.95,959.31 L1214.9,958.35 L1215.92,957.4 L1217.01,956.44 L1218.16,955.49 L1219.38,954.54 L1220.66,953.58 L1221.98,952.63 L1223.35,951.67 L1224.76,950.72 L1226.2,949.77 L1227.66,948.81 L1229.13,947.86 L1230.62,946.9 L1232.09,945.95 L1233.56,945 L1235.01,944.04 L1277.59,944.04 L1279.04,945 L1280.51,945.95 L1281.98,946.9 L1283.47,947.86 L1284.94,948.81 L1286.4,949.77 L1287.84,950.72 L1289.25,951.67 L1290.62,952.63 L1291.94,953.58 L1293.22,954.54 L1294.44,955.49 L1295.59,956.44 L1296.68,957.4 L1297.7,958.35 L1298.65,959.31 L1299.51,960.26 L1300.3,961.21 L1301.01,962.17 L1301.63,963.12 L1302.17,964.08 L1302.63,965.03 L1303.01,965.98 L1303.3,966.94 L1303.5,967.89 L1303.62,968.85 L1303.66,969.8 L1303.61,970.75 L1303.48,971.71 L1303.27,972.66 L1302.97,973.61 L1302.59,974.57 L1302.12,975.52 L1301.57,976.48 L1300.94,977.43 L1300.22,978.38 L1299.43,979.34 L1298.55,980.29 L1297.6,981.25 L1296.58,982.2 L1295.48,983.15 L1294.32,984.11 L1293.09,985.06 L1291.81,986.02 L1290.49,986.97 L1289.11,987.92 L1287.7,988.88 L1286.27,989.83 L1284.81,990.79 L1283.34,991.74 L1281.86,992.69 L1280.39,993.65 L1278.94,994.6 L1277.5,995.56 L1276.09,996.51 L1274.72,997.46 L1273.39,998.42 L1272.11,999.37 L1270.89,1000.33 L1269.72,1001.28 L1268.63,1002.23 L1267.6,1003.19 L1266.64,1004.14 L1265.76,1005.1 L1264.95,1006.05 L1264.23,1007 L1263.58,1007.96 L1263.02,1008.91 L1262.55,1009.87 L1262.15,1010.82 L1261.84,1011.77 L1261.61,1012.73 L1261.47,1013.68 L1261.41,1014.63 L1261.44,1015.59 L1261.55,1016.54 L1261.74,1017.5 L1262.01,1018.45 L1262.36,1019.4 L1262.8,1020.36 L1263.31,1021.31 L1263.9,1022.27 L1264.57,1023.22 L1265.31,1024.17 L1266.12,1025.13 L1266.99,1026.08 L1267.93,1027.04 L1268.93,1027.99 L1269.97,1028.94 L1271.06,1029.9 L1272.19,1030.85 L1273.35,1031.81 L1274.52,1032.76 L1275.71,1033.71 L1276.9,1034.67 L1278.08,1035.62 L1279.24,1036.58 L1280.37,1037.53 L1281.45,1038.48 L1282.48,1039.44 L1283.45,1040.39 L1284.35,1041.35 L1285.16,1042.3 L1285.88,1043.25 L1286.51,1044.21 L1287.03,1045.16 L1287.44,1046.12 L1287.73,1047.07 L1287.91,1048.02 L1287.98,1048.98 L1287.94,1049.93 L1287.78,1050.88 L1287.52,1051.84 L1287.17,1052.79 L1286.72,1053.75 L1286.19,1054.7 L1285.59,1055.65 L1284.94,1056.61 L1284.23,1057.56 L1283.5,1058.52 L1282.74,1059.47 L1281.98,1060.42 L1281.23,1061.38 L1280.51,1062.33 L1279.81,1063.29 L1279.17,1064.24 L1278.58,1065.19 L1278.07,1066.15 L1277.63,1067.1 L1277.28,1068.06 L1277.03,1069.01 L1276.87,1069.96 L1276.81,1070.92 L1276.85,1071.87 L1276.99,1072.83 L1277.23,1073.78 L1277.57,1074.73 L1277.99,1075.69 L1278.5,1076.64 L1279.07,1077.6 L1279.71,1078.55 L1280.4,1079.5 L1281.13,1080.46 L1281.88,1081.41 L1282.64,1082.37 L1283.41,1083.32 L1284.16,1084.27 L1284.88,1085.23 L1285.56,1086.18 L1286.19,1087.13 L1286.75,1088.09 L1287.24,1089.04 L1287.64,1090 L1287.96,1090.95 L1288.18,1091.9 L1288.3,1092.86 L1288.32,1093.81 L1288.23,1094.77 L1288.05,1095.72 L1287.76,1096.67 L1287.39,1097.63 L1286.93,1098.58 L1286.39,1099.54 L1285.78,1100.49 L1285.12,1101.44 L1284.41,1102.4 L1283.67,1103.35 L1282.91,1104.31 L1282.14,1105.26 L1281.38,1106.21 L1280.65,1107.17 L1279.94,1108.12 L1279.29,1109.08 L1278.69,1110.03 L1278.16,1110.98 L1277.71,1111.94 L1277.34,1112.89 L1277.07,1113.85 L1276.89,1114.8 L1276.81,1115.75 L1276.84,1116.71 L1276.96,1117.66 L1277.18,1118.62 L1277.5,1119.57 L1277.91,1120.52 L1278.4,1121.48 L1278.96,1122.43 L1279.59,1123.39 L1280.26,1124.34 L1280.98,1125.29 L1281.72,1126.25 L1282.48,1127.2 L1283.24,1128.15 L1283.98,1129.11 L1284.7,1130.06 L1285.37,1131.02 L1285.99,1131.97 L1286.55,1132.92 L1287.02,1133.88 L1287.41,1134.83 L1287.7,1135.79 L1287.9,1136.74 L1287.98,1137.69 L1287.95,1138.65 L1287.81,1139.6 L1287.55,1140.56 L1287.18,1141.51 L1286.69,1142.46 L1286.1,1143.42 L1285.41,1144.37 L1284.63,1145.33 L1283.76,1146.28 L1282.81,1147.23 L1281.79,1148.19 L1280.72,1149.14 L1279.6,1150.1 L1278.44,1151.05 L1277.26,1152 L1276.06,1152.96Z" fill="#b4b0d0" stroke="#000" stroke-opacity="0.9" stroke-width="1" stroke-linejoin="round"/>
<line x1="1256.3" x2="1256.3" y1="958.5" y2="981" stroke="#000" stroke-opacity="0.88" stroke-width="1.1"/>
<line x1="1256.3" x2="1256.3" y1="1093.5" y2="1138.5" stroke="#000" stroke-opacity="0.88" stroke-width="1.1"/>
<line x1="1256.3" x2="1256.3" y1="981" y2="1093.5" stroke="#000" stroke-opacity="0.88" stroke-width="3"/>
<circle cx="1256.3" cy="1048.5" r="1.25" fill="#fff"/>
<path d="M1381.81,1153.9 L1380.47,1152.93 L1379.12,1151.97 L1377.75,1151.01 L1376.38,1150.05 L1375.01,1149.08 L1373.64,1148.12 L1372.29,1147.16 L1370.96,1146.2 L1369.65,1145.23 L1368.38,1144.27 L1367.15,1143.31 L1365.96,1142.35 L1364.82,1141.38 L1363.74,1140.42 L1362.72,1139.46 L1361.76,1138.49 L1360.87,1137.53 L1360.05,1136.57 L1359.3,1135.61 L1358.63,1134.64 L1358.03,1133.68 L1357.52,1132.72 L1357.08,1131.76 L1356.73,1130.79 L1356.45,1129.83 L1356.26,1128.87 L1356.15,1127.91 L1356.12,1126.94 L1356.17,1125.98 L1356.31,1125.02 L1356.52,1124.06 L1356.82,1123.09 L1357.18,1122.13 L1357.63,1121.17 L1358.15,1120.21 L1358.74,1119.24 L1359.39,1118.28 L1360.11,1117.32 L1360.89,1116.36 L1361.73,1115.39 L1362.61,1114.43 L1363.54,1113.47 L1364.51,1112.51 L1365.51,1111.54 L1366.53,1110.58 L1367.57,1109.62 L1368.61,1108.66 L1369.65,1107.69 L1370.69,1106.73 L1371.7,1105.77 L1372.69,1104.81 L1373.64,1103.84 L1374.54,1102.88 L1375.4,1101.92 L1376.19,1100.96 L1376.91,1099.99 L1377.55,1099.03 L1378.12,1098.07 L1378.6,1097.11 L1378.99,1096.14 L1379.3,1095.18 L1379.51,1094.22 L1379.63,1093.26 L1379.66,1092.29 L1379.6,1091.33 L1379.46,1090.37 L1379.23,1089.41 L1378.94,1088.44 L1378.58,1087.48 L1378.17,1086.52 L1377.7,1085.56 L1377.2,1084.59 L1376.68,1083.63 L1376.13,1082.67 L1375.59,1081.71 L1375.04,1080.74 L1374.52,1079.78 L1374.02,1078.82 L1373.56,1077.86 L1373.15,1076.89 L1372.8,1075.93 L1372.52,1074.97 L1372.3,1074.01 L1372.17,1073.04 L1372.13,1072.08 L1372.17,1071.12 L1372.3,1070.16 L1372.52,1069.19 L1372.84,1068.23 L1373.25,1067.27 L1373.74,1066.31 L1374.33,1065.34 L1374.99,1064.38 L1375.73,1063.42 L1376.53,1062.46 L1377.4,1061.49 L1378.32,1060.53 L1379.29,1059.57 L1380.3,1058.61 L1381.33,1057.64 L1382.39,1056.68 L1383.46,1055.72 L1384.53,1054.76 L1385.6,1053.79 L1386.66,1052.83 L1387.71,1051.87 L1388.73,1050.91 L1389.73,1049.94 L1390.69,1048.98 L1391.61,1048.02 L1392.5,1047.06 L1393.34,1046.09 L1394.14,1045.13 L1394.89,1044.17 L1395.59,1043.21 L1396.24,1042.24 L1396.85,1041.28 L1397.4,1040.32 L1397.91,1039.36 L1398.38,1038.39 L1398.8,1037.43 L1399.19,1036.47 L1399.54,1035.51 L1399.86,1034.54 L1400.16,1033.58 L1400.44,1032.62 L1400.7,1031.66 L1400.93,1030.69 L1401.12,1029.73 L1401.27,1028.77 L1401.38,1027.81 L1401.44,1026.84 L1401.46,1025.88 L1401.42,1024.92 L1401.35,1023.96 L1401.23,1022.99 L1401.06,1022.03 L1400.85,1021.07 L1400.61,1020.11 L1400.35,1019.14 L1400.06,1018.18 L1399.74,1017.22 L1399.41,1016.26 L1399.04,1015.29 L1398.63,1014.33 L1398.19,1013.37 L1397.69,1012.41 L1397.14,1011.44 L1396.55,1010.48 L1395.9,1009.52 L1395.19,1008.56 L1394.43,1007.59 L1393.62,1006.63 L1392.75,1005.67 L1391.82,1004.71 L1390.84,1003.74 L1389.81,1002.78 L1388.72,1001.82 L1387.59,1000.86 L1386.41,999.89 L1385.19,998.93 L1383.93,997.97 L1382.64,997.01 L1381.32,996.04 L1379.98,995.08 L1378.62,994.12 L1377.25,993.16 L1375.88,992.19 L1374.51,991.23 L1373.14,990.27 L1371.8,989.31 L1370.48,988.34 L1369.18,987.38 L1367.93,986.42 L1366.71,985.46 L1365.54,984.49 L1364.42,983.53 L1363.36,982.57 L1362.37,981.61 L1361.43,980.64 L1360.57,979.68 L1359.77,978.72 L1359.06,977.76 L1358.41,976.79 L1357.85,975.83 L1357.37,974.87 L1356.97,973.91 L1356.65,972.94 L1356.41,971.98 L1356.26,971.02 L1356.19,970.06 L1356.2,969.09 L1356.3,968.13 L1356.49,967.17 L1356.75,966.21 L1357.1,965.24 L1357.53,964.28 L1358.05,963.32 L1358.64,962.36 L1359.31,961.39 L1360.06,960.43 L1360.87,959.47 L1361.77,958.51 L1362.72,957.54 L1363.74,956.58 L1364.83,955.62 L1365.96,954.65 L1367.15,953.69 L1368.38,952.73 L1369.65,951.77 L1370.96,950.8 L1372.29,949.84 L1373.64,948.88 L1375.01,947.92 L1376.38,946.95 L1377.75,945.99 L1379.12,945.03 L1380.47,944.07 L1381.81,943.1 L1422.49,943.1 L1423.83,944.07 L1425.18,945.03 L1426.55,945.99 L1427.92,946.95 L1429.29,947.92 L1430.66,948.88 L1432.01,949.84 L1433.34,950.8 L1434.65,951.77 L1435.92,952.73 L1437.15,953.69 L1438.34,954.65 L1439.47,955.62 L1440.56,956.58 L1441.58,957.54 L1442.53,958.51 L1443.43,959.47 L1444.24,960.43 L1444.99,961.39 L1445.66,962.36 L1446.25,963.32 L1446.77,964.28 L1447.2,965.24 L1447.55,966.21 L1447.81,967.17 L1448,968.13 L1448.1,969.09 L1448.11,970.06 L1448.04,971.02 L1447.89,971.98 L1447.65,972.94 L1447.33,973.91 L1446.93,974.87 L1446.45,975.83 L1445.89,976.79 L1445.24,977.76 L1444.53,978.72 L1443.73,979.68 L1442.87,980.64 L1441.93,981.61 L1440.94,982.57 L1439.88,983.53 L1438.76,984.49 L1437.59,985.46 L1436.37,986.42 L1435.12,987.38 L1433.82,988.34 L1432.5,989.31 L1431.16,990.27 L1429.79,991.23 L1428.42,992.19 L1427.05,993.16 L1425.68,994.12 L1424.32,995.08 L1422.98,996.04 L1421.66,997.01 L1420.37,997.97 L1419.11,998.93 L1417.89,999.89 L1416.71,1000.86 L1415.58,1001.82 L1414.49,1002.78 L1413.46,1003.74 L1412.48,1004.71 L1411.55,1005.67 L1410.68,1006.63 L1409.87,1007.59 L1409.11,1008.56 L1408.4,1009.52 L1407.75,1010.48 L1407.16,1011.44 L1406.61,1012.41 L1406.11,1013.37 L1405.67,1014.33 L1405.26,1015.29 L1404.89,1016.26 L1404.56,1017.22 L1404.24,1018.18 L1403.95,1019.14 L1403.69,1020.11 L1403.45,1021.07 L1403.24,1022.03 L1403.07,1022.99 L1402.95,1023.96 L1402.88,1024.92 L1402.84,1025.88 L1402.86,1026.84 L1402.92,1027.81 L1403.03,1028.77 L1403.18,1029.73 L1403.37,1030.69 L1403.6,1031.66 L1403.86,1032.62 L1404.14,1033.58 L1404.44,1034.54 L1404.76,1035.51 L1405.11,1036.47 L1405.5,1037.43 L1405.92,1038.39 L1406.39,1039.36 L1406.9,1040.32 L1407.45,1041.28 L1408.06,1042.24 L1408.71,1043.21 L1409.41,1044.17 L1410.16,1045.13 L1410.96,1046.09 L1411.8,1047.06 L1412.69,1048.02 L1413.61,1048.98 L1414.57,1049.94 L1415.57,1050.91 L1416.59,1051.87 L1417.64,1052.83 L1418.7,1053.79 L1419.77,1054.76 L1420.84,1055.72 L1421.91,1056.68 L1422.97,1057.64 L1424,1058.61 L1425.01,1059.57 L1425.98,1060.53 L1426.9,1061.49 L1427.77,1062.46 L1428.57,1063.42 L1429.31,1064.38 L1429.97,1065.34 L1430.56,1066.31 L1431.05,1067.27 L1431.46,1068.23 L1431.78,1069.19 L1432,1070.16 L1432.13,1071.12 L1432.17,1072.08 L1432.13,1073.04 L1432,1074.01 L1431.78,1074.97 L1431.5,1075.93 L1431.15,1076.89 L1430.74,1077.86 L1430.28,1078.82 L1429.78,1079.78 L1429.26,1080.74 L1428.71,1081.71 L1428.17,1082.67 L1427.62,1083.63 L1427.1,1084.59 L1426.6,1085.56 L1426.13,1086.52 L1425.72,1087.48 L1425.36,1088.44 L1425.07,1089.41 L1424.84,1090.37 L1424.7,1091.33 L1424.64,1092.29 L1424.67,1093.26 L1424.79,1094.22 L1425,1095.18 L1425.31,1096.14 L1425.7,1097.11 L1426.18,1098.07 L1426.75,1099.03 L1427.39,1099.99 L1428.11,1100.96 L1428.9,1101.92 L1429.76,1102.88 L1430.66,1103.84 L1431.61,1104.81 L1432.6,1105.77 L1433.61,1106.73 L1434.65,1107.69 L1435.69,1108.66 L1436.73,1109.62 L1437.77,1110.58 L1438.79,1111.54 L1439.79,1112.51 L1440.76,1113.47 L1441.69,1114.43 L1442.57,1115.39 L1443.41,1116.36 L1444.19,1117.32 L1444.91,1118.28 L1445.56,1119.24 L1446.15,1120.21 L1446.67,1121.17 L1447.12,1122.13 L1447.48,1123.09 L1447.78,1124.06 L1447.99,1125.02 L1448.13,1125.98 L1448.18,1126.94 L1448.15,1127.91 L1448.04,1128.87 L1447.85,1129.83 L1447.57,1130.79 L1447.22,1131.76 L1446.78,1132.72 L1446.27,1133.68 L1445.67,1134.64 L1445,1135.61 L1444.25,1136.57 L1443.43,1137.53 L1442.54,1138.49 L1441.58,1139.46 L1440.56,1140.42 L1439.48,1141.38 L1438.34,1142.35 L1437.15,1143.31 L1435.92,1144.27 L1434.65,1145.23 L1433.34,1146.2 L1432.01,1147.16 L1430.66,1148.12 L1429.29,1149.08 L1427.92,1150.05 L1426.55,1151.01 L1425.18,1151.97 L1423.83,1152.93 L1422.49,1153.9Z" fill="#d6717c" stroke="#000" stroke-opacity="0.9" stroke-width="1" stroke-linejoin="round"/>
<line x1="1402.15" x2="1402.15" y1="958.5" y2="981" stroke="#000" stroke-opacity="0.88" stroke-width="1.1"/>
<line x1="1402.15" x2="1402.15" y1="1116" y2="1138.5" stroke="#000" stroke-opacity="0.88" stroke-width="1.1"/>
<line x1="1402.15" x2="1402.15" y1="981" y2="1116" stroke="#000" stroke-opacity="0.88" stroke-width="3"/>
<circle cx="1402.15" cy="1071" r="1.25" fill="#fff"/>
<rect x="890.4" y="735.5" width="585.1" height="439.5" fill="none" stroke="#d0d0d0" stroke-width="3.0"/>
<text transform="translate(874.10,789.00) scale(0.94,1)" text-anchor="end" font-size="53">10</text>
<text transform="translate(872.50,879.60) scale(0.94,1)" text-anchor="end" font-size="53">8</text>
<text transform="translate(872.50,969.90) scale(0.94,1)" text-anchor="end" font-size="53">6</text>
<text transform="translate(872.50,1059.30) scale(0.94,1)" text-anchor="end" font-size="53">4</text>
<text transform="translate(872.50,1150.40) scale(0.94,1)" text-anchor="end" font-size="53">2</text>
<text transform="translate(810.7,976.25) rotate(-90) scale(0.965,1)" text-anchor="middle" font-size="53">WD <tspan dx="2" dy="1">值</tspan></text>
<text transform="translate(1000.85,1203.50) rotate(-45) scale(0.975,1)" text-anchor="end" font-size="53">文献<tspan dx="2" dy="1.2">[8]</tspan></text>
<text transform="translate(1146.75,1203.50) rotate(-45) scale(0.975,1)" text-anchor="end" font-size="53">文献<tspan dx="2" dy="1.2">[9]</tspan></text>
<text transform="translate(1292.65,1203.50) rotate(-45) scale(0.975,1)" text-anchor="end" font-size="53">文献<tspan dx="2" dy="1.2">[10]</tspan></text>
<text transform="translate(1437.15,1204.90) rotate(-45) scale(0.975,1)" text-anchor="end" font-size="53">本文方法</text>
<text transform="translate(1186.00,1408.80) scale(0.975,1)" text-anchor="middle" font-size="53">(d) 肾脏</text>
</g>
</svg>
</body>
</html>
